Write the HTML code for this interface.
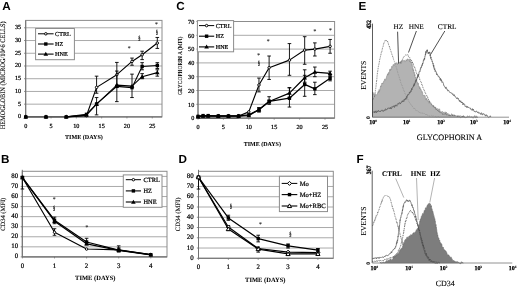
<!DOCTYPE html>
<html><head><meta charset="utf-8"><style>
html,body{margin:0;padding:0;background:#fff;overflow:hidden;}
svg{display:block;will-change:transform;filter:blur(0.35px);}
text{text-rendering:geometricPrecision;}
</style></head><body>
<svg width="520" height="288" viewBox="0 0 520 288">
<rect width="520" height="288" fill="#fff"/>
<text x="2.20" y="9.80" font-size="11.7" text-anchor="start" font-weight="bold" font-family="'Liberation Sans', sans-serif" fill="#000">A</text>
<text x="176.20" y="9.80" font-size="11.7" text-anchor="start" font-weight="bold" font-family="'Liberation Sans', sans-serif" fill="#000">C</text>
<text x="358.40" y="9.80" font-size="11.7" text-anchor="start" font-weight="bold" font-family="'Liberation Sans', sans-serif" fill="#000">E</text>
<text x="1.00" y="162.70" font-size="11.7" text-anchor="start" font-weight="bold" font-family="'Liberation Sans', sans-serif" fill="#000">B</text>
<text x="178.60" y="163.10" font-size="11.7" text-anchor="start" font-weight="bold" font-family="'Liberation Sans', sans-serif" fill="#000">D</text>
<text x="356.50" y="163.10" font-size="11.7" text-anchor="start" font-weight="bold" font-family="'Liberation Sans', sans-serif" fill="#000">F</text>
<line x1="25.70" y1="104.17" x2="162.00" y2="104.17" stroke="#a0a0a0" stroke-width="0.9"/>
<line x1="25.70" y1="91.44" x2="162.00" y2="91.44" stroke="#a0a0a0" stroke-width="0.9"/>
<line x1="25.70" y1="78.71" x2="162.00" y2="78.71" stroke="#a0a0a0" stroke-width="0.9"/>
<line x1="25.70" y1="65.98" x2="162.00" y2="65.98" stroke="#a0a0a0" stroke-width="0.9"/>
<line x1="25.70" y1="53.25" x2="162.00" y2="53.25" stroke="#a0a0a0" stroke-width="0.9"/>
<line x1="25.70" y1="40.52" x2="162.00" y2="40.52" stroke="#a0a0a0" stroke-width="0.9"/>
<line x1="25.70" y1="27.79" x2="162.00" y2="27.79" stroke="#a0a0a0" stroke-width="0.9"/>
<rect x="25.7" y="20.4" width="136.3" height="96.5" fill="none" stroke="#8c8c8c" stroke-width="1.0"/>
<line x1="25.70" y1="20.40" x2="25.70" y2="116.90" stroke="#707070" stroke-width="1.0"/>
<line x1="25.70" y1="116.90" x2="162.00" y2="116.90" stroke="#707070" stroke-width="1.1"/>
<text x="21.20" y="118.25" font-size="6.2" text-anchor="end" font-weight="normal" font-family="'Liberation Serif', serif" fill="#000" stroke="#000" stroke-width="0.22">0</text>
<line x1="24.10" y1="116.90" x2="25.70" y2="116.90" stroke="#707070" stroke-width="0.8"/>
<text x="21.20" y="105.52" font-size="6.2" text-anchor="end" font-weight="normal" font-family="'Liberation Serif', serif" fill="#000" stroke="#000" stroke-width="0.22">5</text>
<line x1="24.10" y1="104.17" x2="25.70" y2="104.17" stroke="#707070" stroke-width="0.8"/>
<text x="21.20" y="92.79" font-size="6.2" text-anchor="end" font-weight="normal" font-family="'Liberation Serif', serif" fill="#000" stroke="#000" stroke-width="0.22">10</text>
<line x1="24.10" y1="91.44" x2="25.70" y2="91.44" stroke="#707070" stroke-width="0.8"/>
<text x="21.20" y="80.06" font-size="6.2" text-anchor="end" font-weight="normal" font-family="'Liberation Serif', serif" fill="#000" stroke="#000" stroke-width="0.22">15</text>
<line x1="24.10" y1="78.71" x2="25.70" y2="78.71" stroke="#707070" stroke-width="0.8"/>
<text x="21.20" y="67.33" font-size="6.2" text-anchor="end" font-weight="normal" font-family="'Liberation Serif', serif" fill="#000" stroke="#000" stroke-width="0.22">20</text>
<line x1="24.10" y1="65.98" x2="25.70" y2="65.98" stroke="#707070" stroke-width="0.8"/>
<text x="21.20" y="54.60" font-size="6.2" text-anchor="end" font-weight="normal" font-family="'Liberation Serif', serif" fill="#000" stroke="#000" stroke-width="0.22">25</text>
<line x1="24.10" y1="53.25" x2="25.70" y2="53.25" stroke="#707070" stroke-width="0.8"/>
<text x="21.20" y="41.87" font-size="6.2" text-anchor="end" font-weight="normal" font-family="'Liberation Serif', serif" fill="#000" stroke="#000" stroke-width="0.22">30</text>
<line x1="24.10" y1="40.52" x2="25.70" y2="40.52" stroke="#707070" stroke-width="0.8"/>
<text x="21.20" y="29.14" font-size="6.2" text-anchor="end" font-weight="normal" font-family="'Liberation Serif', serif" fill="#000" stroke="#000" stroke-width="0.22">35</text>
<line x1="24.10" y1="27.79" x2="25.70" y2="27.79" stroke="#707070" stroke-width="0.8"/>
<text x="25.75" y="127.50" font-size="6.2" text-anchor="middle" font-weight="normal" font-family="'Liberation Serif', serif" fill="#000" stroke="#000" stroke-width="0.22">0</text>
<line x1="25.75" y1="116.90" x2="25.75" y2="118.40" stroke="#707070" stroke-width="0.8"/>
<text x="51.05" y="127.50" font-size="6.2" text-anchor="middle" font-weight="normal" font-family="'Liberation Serif', serif" fill="#000" stroke="#000" stroke-width="0.22">5</text>
<line x1="51.05" y1="116.90" x2="51.05" y2="118.40" stroke="#707070" stroke-width="0.8"/>
<text x="76.35" y="127.50" font-size="6.2" text-anchor="middle" font-weight="normal" font-family="'Liberation Serif', serif" fill="#000" stroke="#000" stroke-width="0.22">10</text>
<line x1="76.35" y1="116.90" x2="76.35" y2="118.40" stroke="#707070" stroke-width="0.8"/>
<text x="101.65" y="127.50" font-size="6.2" text-anchor="middle" font-weight="normal" font-family="'Liberation Serif', serif" fill="#000" stroke="#000" stroke-width="0.22">15</text>
<line x1="101.65" y1="116.90" x2="101.65" y2="118.40" stroke="#707070" stroke-width="0.8"/>
<text x="126.95" y="127.50" font-size="6.2" text-anchor="middle" font-weight="normal" font-family="'Liberation Serif', serif" fill="#000" stroke="#000" stroke-width="0.22">20</text>
<line x1="126.95" y1="116.90" x2="126.95" y2="118.40" stroke="#707070" stroke-width="0.8"/>
<text x="152.25" y="127.50" font-size="6.2" text-anchor="middle" font-weight="normal" font-family="'Liberation Serif', serif" fill="#000" stroke="#000" stroke-width="0.22">25</text>
<line x1="152.25" y1="116.90" x2="152.25" y2="118.40" stroke="#707070" stroke-width="0.8"/>
<line x1="25.75" y1="116.90" x2="66.20" y2="116.90" stroke="#555" stroke-width="1.4"/>
<line x1="96.59" y1="76.16" x2="96.59" y2="93.22" stroke="#000" stroke-width="0.9"/>
<line x1="94.79" y1="76.16" x2="98.39" y2="76.16" stroke="#000" stroke-width="0.9"/>
<line x1="94.79" y1="93.22" x2="98.39" y2="93.22" stroke="#000" stroke-width="0.9"/>
<line x1="116.83" y1="62.42" x2="116.83" y2="87.37" stroke="#000" stroke-width="0.9"/>
<line x1="115.03" y1="62.42" x2="118.63" y2="62.42" stroke="#000" stroke-width="0.9"/>
<line x1="115.03" y1="87.37" x2="118.63" y2="87.37" stroke="#000" stroke-width="0.9"/>
<line x1="132.01" y1="58.09" x2="132.01" y2="65.22" stroke="#000" stroke-width="0.9"/>
<line x1="130.21" y1="58.09" x2="133.81" y2="58.09" stroke="#000" stroke-width="0.9"/>
<line x1="130.21" y1="65.22" x2="133.81" y2="65.22" stroke="#000" stroke-width="0.9"/>
<line x1="142.13" y1="51.21" x2="142.13" y2="59.62" stroke="#000" stroke-width="0.9"/>
<line x1="140.33" y1="51.21" x2="143.93" y2="51.21" stroke="#000" stroke-width="0.9"/>
<line x1="140.33" y1="59.62" x2="143.93" y2="59.62" stroke="#000" stroke-width="0.9"/>
<line x1="157.31" y1="37.46" x2="157.31" y2="48.41" stroke="#000" stroke-width="0.9"/>
<line x1="155.51" y1="37.46" x2="159.11" y2="37.46" stroke="#000" stroke-width="0.9"/>
<line x1="155.51" y1="48.41" x2="159.11" y2="48.41" stroke="#000" stroke-width="0.9"/>
<polyline points="66.23,116.90 86.47,115.63 96.59,87.37 116.83,74.64 132.01,61.40 142.13,54.78 157.31,43.07" stroke="#000" stroke-width="1.15" fill="none" stroke-linejoin="round"/>
<circle cx="25.75" cy="116.90" r="1.25" fill="#fff" stroke="#000" stroke-width="0.95"/>
<circle cx="45.99" cy="116.90" r="1.25" fill="#fff" stroke="#000" stroke-width="0.95"/>
<circle cx="66.23" cy="116.90" r="1.25" fill="#fff" stroke="#000" stroke-width="0.95"/>
<circle cx="86.47" cy="115.63" r="1.25" fill="#fff" stroke="#000" stroke-width="0.95"/>
<circle cx="96.59" cy="87.37" r="1.25" fill="#fff" stroke="#000" stroke-width="0.95"/>
<circle cx="116.83" cy="74.64" r="1.25" fill="#fff" stroke="#000" stroke-width="0.95"/>
<circle cx="132.01" cy="61.40" r="1.25" fill="#fff" stroke="#000" stroke-width="0.95"/>
<circle cx="142.13" cy="54.78" r="1.25" fill="#fff" stroke="#000" stroke-width="0.95"/>
<circle cx="157.31" cy="43.07" r="1.25" fill="#fff" stroke="#000" stroke-width="0.95"/>
<line x1="96.59" y1="97.55" x2="96.59" y2="114.86" stroke="#000" stroke-width="0.9"/>
<line x1="94.79" y1="97.55" x2="98.39" y2="97.55" stroke="#000" stroke-width="0.9"/>
<line x1="94.79" y1="114.86" x2="98.39" y2="114.86" stroke="#000" stroke-width="0.9"/>
<line x1="116.83" y1="71.07" x2="116.83" y2="101.62" stroke="#000" stroke-width="0.9"/>
<line x1="115.03" y1="71.07" x2="118.63" y2="71.07" stroke="#000" stroke-width="0.9"/>
<line x1="115.03" y1="101.62" x2="118.63" y2="101.62" stroke="#000" stroke-width="0.9"/>
<line x1="132.01" y1="74.13" x2="132.01" y2="97.55" stroke="#000" stroke-width="0.9"/>
<line x1="130.21" y1="74.13" x2="133.81" y2="74.13" stroke="#000" stroke-width="0.9"/>
<line x1="130.21" y1="97.55" x2="133.81" y2="97.55" stroke="#000" stroke-width="0.9"/>
<line x1="142.13" y1="62.67" x2="142.13" y2="69.80" stroke="#000" stroke-width="0.9"/>
<line x1="140.33" y1="62.67" x2="143.93" y2="62.67" stroke="#000" stroke-width="0.9"/>
<line x1="140.33" y1="69.80" x2="143.93" y2="69.80" stroke="#000" stroke-width="0.9"/>
<line x1="157.31" y1="62.67" x2="157.31" y2="68.53" stroke="#000" stroke-width="0.9"/>
<line x1="155.51" y1="62.67" x2="159.11" y2="62.67" stroke="#000" stroke-width="0.9"/>
<line x1="155.51" y1="68.53" x2="159.11" y2="68.53" stroke="#000" stroke-width="0.9"/>
<polyline points="66.23,116.90 86.47,114.35 96.59,103.92 116.83,86.35 132.01,87.62 142.13,66.49 157.31,65.47" stroke="#000" stroke-width="1.1" fill="none" stroke-linejoin="round"/>
<rect x="24.05" y="115.20" width="3.40" height="3.40" fill="#000"/>
<rect x="44.29" y="115.20" width="3.40" height="3.40" fill="#000"/>
<rect x="64.53" y="115.20" width="3.40" height="3.40" fill="#000"/>
<rect x="84.77" y="112.65" width="3.40" height="3.40" fill="#000"/>
<rect x="94.89" y="102.22" width="3.40" height="3.40" fill="#000"/>
<rect x="115.13" y="84.65" width="3.40" height="3.40" fill="#000"/>
<rect x="130.31" y="85.92" width="3.40" height="3.40" fill="#000"/>
<rect x="140.43" y="64.79" width="3.40" height="3.40" fill="#000"/>
<rect x="155.61" y="63.77" width="3.40" height="3.40" fill="#000"/>
<line x1="142.13" y1="73.62" x2="142.13" y2="78.71" stroke="#000" stroke-width="0.9"/>
<line x1="140.33" y1="73.62" x2="143.93" y2="73.62" stroke="#000" stroke-width="0.9"/>
<line x1="140.33" y1="78.71" x2="143.93" y2="78.71" stroke="#000" stroke-width="0.9"/>
<line x1="157.31" y1="69.80" x2="157.31" y2="76.16" stroke="#000" stroke-width="0.9"/>
<line x1="155.51" y1="69.80" x2="159.11" y2="69.80" stroke="#000" stroke-width="0.9"/>
<line x1="155.51" y1="76.16" x2="159.11" y2="76.16" stroke="#000" stroke-width="0.9"/>
<polyline points="66.23,116.90 86.47,115.12 96.59,104.17 116.83,85.08 132.01,86.09 142.13,76.67 157.31,72.60" stroke="#000" stroke-width="1.1" fill="none" stroke-linejoin="round"/>
<polygon points="25.75,114.60 23.45,118.62 28.05,118.62" fill="#000"/>
<polygon points="45.99,114.60 43.69,118.62 48.29,118.62" fill="#000"/>
<polygon points="66.23,114.60 63.93,118.62 68.53,118.62" fill="#000"/>
<polygon points="86.47,112.82 84.17,116.84 88.77,116.84" fill="#000"/>
<polygon points="96.59,101.87 94.29,105.89 98.89,105.89" fill="#000"/>
<polygon points="116.83,82.78 114.53,86.80 119.13,86.80" fill="#000"/>
<polygon points="132.01,83.79 129.71,87.82 134.31,87.82" fill="#000"/>
<polygon points="142.13,74.37 139.83,78.40 144.43,78.40" fill="#000"/>
<polygon points="157.31,70.30 155.01,74.32 159.61,74.32" fill="#000"/>
<rect x="35.6" y="28.5" width="38.800000000000004" height="31.200000000000003" fill="#fff" stroke="#8c8c8c" stroke-width="1.0"/>
<line x1="38.00" y1="33.80" x2="53.60" y2="33.80" stroke="#000" stroke-width="1.0"/>
<circle cx="45.80" cy="33.80" r="1.25" fill="#fff" stroke="#000" stroke-width="0.95"/>
<text x="55.10" y="35.87" font-size="6.1" text-anchor="start" font-weight="normal" font-family="'Liberation Serif', serif" fill="#000" stroke="#000" stroke-width="0.22">CTRL</text>
<line x1="38.00" y1="44.00" x2="53.60" y2="44.00" stroke="#000" stroke-width="1.1"/>
<rect x="44.10" y="42.30" width="3.40" height="3.40" fill="#000"/>
<text x="55.10" y="46.07" font-size="6.1" text-anchor="start" font-weight="normal" font-family="'Liberation Serif', serif" fill="#000" stroke="#000" stroke-width="0.22">HZ</text>
<line x1="38.00" y1="54.10" x2="53.60" y2="54.10" stroke="#000" stroke-width="1.1"/>
<polygon points="45.80,51.80 43.50,55.83 48.10,55.83" fill="#000"/>
<text x="55.10" y="56.17" font-size="6.1" text-anchor="start" font-weight="normal" font-family="'Liberation Serif', serif" fill="#000" stroke="#000" stroke-width="0.22">HNE</text>
<text x="83.90" y="139.20" font-size="6.1" text-anchor="middle" font-weight="bold" font-family="'Liberation Serif', serif" fill="#000" stroke="#000" stroke-width="0.05">TIME (DAYS)</text>
<text x="0" y="0" font-size="6.9" text-anchor="middle" font-weight="normal" font-family="'Liberation Serif', serif" fill="#000" stroke="#000" stroke-width="0.12" transform="translate(5.10 75.40) rotate(-90) scale(0.91 1)">HEMOGLOBIN (MICROG/10^6 CELLS)</text>
<text x="129.20" y="50.30" font-size="5.6" text-anchor="middle" font-weight="normal" font-family="'Liberation Serif', serif" fill="#333" stroke="#333" stroke-width="0.15">*</text>
<text x="156.40" y="25.70" font-size="5.6" text-anchor="middle" font-weight="normal" font-family="'Liberation Serif', serif" fill="#333" stroke="#333" stroke-width="0.15">*</text>
<text x="0" y="0" font-size="6.2" text-anchor="middle" font-weight="normal" font-family="'Liberation Serif', serif" fill="#000" stroke="#000" stroke-width="0.2" transform="translate(139.50 40.10) scale(0.75 1)">§</text>
<text x="0" y="0" font-size="6.2" text-anchor="middle" font-weight="normal" font-family="'Liberation Serif', serif" fill="#000" stroke="#000" stroke-width="0.2" transform="translate(156.80 34.20) scale(0.75 1)">§</text>
<line x1="198.00" y1="104.30" x2="334.60" y2="104.30" stroke="#a0a0a0" stroke-width="0.9"/>
<line x1="198.00" y1="90.50" x2="334.60" y2="90.50" stroke="#a0a0a0" stroke-width="0.9"/>
<line x1="198.00" y1="76.70" x2="334.60" y2="76.70" stroke="#a0a0a0" stroke-width="0.9"/>
<line x1="198.00" y1="62.90" x2="334.60" y2="62.90" stroke="#a0a0a0" stroke-width="0.9"/>
<line x1="198.00" y1="49.10" x2="334.60" y2="49.10" stroke="#a0a0a0" stroke-width="0.9"/>
<line x1="198.00" y1="35.30" x2="334.60" y2="35.30" stroke="#a0a0a0" stroke-width="0.9"/>
<line x1="198.00" y1="21.50" x2="334.60" y2="21.50" stroke="#a0a0a0" stroke-width="0.9"/>
<rect x="198.0" y="21.5" width="136.60000000000002" height="96.6" fill="none" stroke="#8c8c8c" stroke-width="1.0"/>
<line x1="198.00" y1="21.50" x2="198.00" y2="118.10" stroke="#707070" stroke-width="1.0"/>
<line x1="198.00" y1="118.10" x2="334.60" y2="118.10" stroke="#707070" stroke-width="1.1"/>
<text x="194.30" y="120.35" font-size="6.2" text-anchor="end" font-weight="normal" font-family="'Liberation Serif', serif" fill="#000" stroke="#000" stroke-width="0.22">0</text>
<line x1="196.40" y1="118.10" x2="198.00" y2="118.10" stroke="#707070" stroke-width="0.8"/>
<text x="194.30" y="106.55" font-size="6.2" text-anchor="end" font-weight="normal" font-family="'Liberation Serif', serif" fill="#000" stroke="#000" stroke-width="0.22">10</text>
<line x1="196.40" y1="104.30" x2="198.00" y2="104.30" stroke="#707070" stroke-width="0.8"/>
<text x="194.30" y="92.75" font-size="6.2" text-anchor="end" font-weight="normal" font-family="'Liberation Serif', serif" fill="#000" stroke="#000" stroke-width="0.22">20</text>
<line x1="196.40" y1="90.50" x2="198.00" y2="90.50" stroke="#707070" stroke-width="0.8"/>
<text x="194.30" y="78.95" font-size="6.2" text-anchor="end" font-weight="normal" font-family="'Liberation Serif', serif" fill="#000" stroke="#000" stroke-width="0.22">30</text>
<line x1="196.40" y1="76.70" x2="198.00" y2="76.70" stroke="#707070" stroke-width="0.8"/>
<text x="194.30" y="65.15" font-size="6.2" text-anchor="end" font-weight="normal" font-family="'Liberation Serif', serif" fill="#000" stroke="#000" stroke-width="0.22">40</text>
<line x1="196.40" y1="62.90" x2="198.00" y2="62.90" stroke="#707070" stroke-width="0.8"/>
<text x="194.30" y="51.35" font-size="6.2" text-anchor="end" font-weight="normal" font-family="'Liberation Serif', serif" fill="#000" stroke="#000" stroke-width="0.22">50</text>
<line x1="196.40" y1="49.10" x2="198.00" y2="49.10" stroke="#707070" stroke-width="0.8"/>
<text x="194.30" y="37.55" font-size="6.2" text-anchor="end" font-weight="normal" font-family="'Liberation Serif', serif" fill="#000" stroke="#000" stroke-width="0.22">60</text>
<line x1="196.40" y1="35.30" x2="198.00" y2="35.30" stroke="#707070" stroke-width="0.8"/>
<text x="194.30" y="23.75" font-size="6.2" text-anchor="end" font-weight="normal" font-family="'Liberation Serif', serif" fill="#000" stroke="#000" stroke-width="0.22">70</text>
<line x1="196.40" y1="21.50" x2="198.00" y2="21.50" stroke="#707070" stroke-width="0.8"/>
<text x="198.00" y="128.80" font-size="6.2" text-anchor="middle" font-weight="normal" font-family="'Liberation Serif', serif" fill="#000" stroke="#000" stroke-width="0.22">0</text>
<line x1="198.00" y1="118.10" x2="198.00" y2="119.60" stroke="#707070" stroke-width="0.8"/>
<text x="223.40" y="128.80" font-size="6.2" text-anchor="middle" font-weight="normal" font-family="'Liberation Serif', serif" fill="#000" stroke="#000" stroke-width="0.22">5</text>
<line x1="223.40" y1="118.10" x2="223.40" y2="119.60" stroke="#707070" stroke-width="0.8"/>
<text x="248.80" y="128.80" font-size="6.2" text-anchor="middle" font-weight="normal" font-family="'Liberation Serif', serif" fill="#000" stroke="#000" stroke-width="0.22">10</text>
<line x1="248.80" y1="118.10" x2="248.80" y2="119.60" stroke="#707070" stroke-width="0.8"/>
<text x="274.20" y="128.80" font-size="6.2" text-anchor="middle" font-weight="normal" font-family="'Liberation Serif', serif" fill="#000" stroke="#000" stroke-width="0.22">15</text>
<line x1="274.20" y1="118.10" x2="274.20" y2="119.60" stroke="#707070" stroke-width="0.8"/>
<text x="299.60" y="128.80" font-size="6.2" text-anchor="middle" font-weight="normal" font-family="'Liberation Serif', serif" fill="#000" stroke="#000" stroke-width="0.22">20</text>
<line x1="299.60" y1="118.10" x2="299.60" y2="119.60" stroke="#707070" stroke-width="0.8"/>
<text x="325.00" y="128.80" font-size="6.2" text-anchor="middle" font-weight="normal" font-family="'Liberation Serif', serif" fill="#000" stroke="#000" stroke-width="0.22">25</text>
<line x1="325.00" y1="118.10" x2="325.00" y2="119.60" stroke="#707070" stroke-width="0.8"/>
<line x1="198.00" y1="118.10" x2="238.70" y2="118.10" stroke="#555" stroke-width="1.4"/>
<line x1="258.96" y1="78.08" x2="258.96" y2="91.88" stroke="#000" stroke-width="0.9"/>
<line x1="257.16" y1="78.08" x2="260.76" y2="78.08" stroke="#000" stroke-width="0.9"/>
<line x1="257.16" y1="91.88" x2="260.76" y2="91.88" stroke="#000" stroke-width="0.9"/>
<line x1="269.12" y1="56.00" x2="269.12" y2="79.46" stroke="#000" stroke-width="0.9"/>
<line x1="267.32" y1="56.00" x2="270.92" y2="56.00" stroke="#000" stroke-width="0.9"/>
<line x1="267.32" y1="79.46" x2="270.92" y2="79.46" stroke="#000" stroke-width="0.9"/>
<line x1="289.44" y1="43.58" x2="289.44" y2="75.32" stroke="#000" stroke-width="0.9"/>
<line x1="287.64" y1="43.58" x2="291.24" y2="43.58" stroke="#000" stroke-width="0.9"/>
<line x1="287.64" y1="75.32" x2="291.24" y2="75.32" stroke="#000" stroke-width="0.9"/>
<line x1="304.68" y1="36.68" x2="304.68" y2="64.28" stroke="#000" stroke-width="0.9"/>
<line x1="302.88" y1="36.68" x2="306.48" y2="36.68" stroke="#000" stroke-width="0.9"/>
<line x1="302.88" y1="64.28" x2="306.48" y2="64.28" stroke="#000" stroke-width="0.9"/>
<line x1="314.84" y1="42.89" x2="314.84" y2="56.00" stroke="#000" stroke-width="0.9"/>
<line x1="313.04" y1="42.89" x2="316.64" y2="42.89" stroke="#000" stroke-width="0.9"/>
<line x1="313.04" y1="56.00" x2="316.64" y2="56.00" stroke="#000" stroke-width="0.9"/>
<line x1="330.08" y1="39.44" x2="330.08" y2="53.24" stroke="#000" stroke-width="0.9"/>
<line x1="328.28" y1="39.44" x2="331.88" y2="39.44" stroke="#000" stroke-width="0.9"/>
<line x1="328.28" y1="53.24" x2="331.88" y2="53.24" stroke="#000" stroke-width="0.9"/>
<polyline points="198.00,116.44 203.08,115.89 208.16,115.89 218.32,116.03 228.48,116.03 238.64,116.03 248.80,111.89 258.96,84.98 269.12,67.73 289.44,60.14 304.68,50.07 314.84,49.10 330.08,46.34" stroke="#000" stroke-width="1.15" fill="none" stroke-linejoin="round"/>
<circle cx="198.00" cy="116.44" r="1.25" fill="#fff" stroke="#000" stroke-width="0.95"/>
<circle cx="203.08" cy="115.89" r="1.25" fill="#fff" stroke="#000" stroke-width="0.95"/>
<circle cx="208.16" cy="115.89" r="1.25" fill="#fff" stroke="#000" stroke-width="0.95"/>
<circle cx="218.32" cy="116.03" r="1.25" fill="#fff" stroke="#000" stroke-width="0.95"/>
<circle cx="228.48" cy="116.03" r="1.25" fill="#fff" stroke="#000" stroke-width="0.95"/>
<circle cx="238.64" cy="116.03" r="1.25" fill="#fff" stroke="#000" stroke-width="0.95"/>
<circle cx="248.80" cy="111.89" r="1.25" fill="#fff" stroke="#000" stroke-width="0.95"/>
<circle cx="258.96" cy="84.98" r="1.25" fill="#fff" stroke="#000" stroke-width="0.95"/>
<circle cx="269.12" cy="67.73" r="1.25" fill="#fff" stroke="#000" stroke-width="0.95"/>
<circle cx="289.44" cy="60.14" r="1.25" fill="#fff" stroke="#000" stroke-width="0.95"/>
<circle cx="304.68" cy="50.07" r="1.25" fill="#fff" stroke="#000" stroke-width="0.95"/>
<circle cx="314.84" cy="49.10" r="1.25" fill="#fff" stroke="#000" stroke-width="0.95"/>
<circle cx="330.08" cy="46.34" r="1.25" fill="#fff" stroke="#000" stroke-width="0.95"/>
<line x1="258.96" y1="107.75" x2="258.96" y2="111.89" stroke="#000" stroke-width="0.9"/>
<line x1="257.16" y1="107.75" x2="260.76" y2="107.75" stroke="#000" stroke-width="0.9"/>
<line x1="257.16" y1="111.89" x2="260.76" y2="111.89" stroke="#000" stroke-width="0.9"/>
<line x1="269.12" y1="96.71" x2="269.12" y2="104.30" stroke="#000" stroke-width="0.9"/>
<line x1="267.32" y1="96.71" x2="270.92" y2="96.71" stroke="#000" stroke-width="0.9"/>
<line x1="267.32" y1="104.30" x2="270.92" y2="104.30" stroke="#000" stroke-width="0.9"/>
<line x1="289.44" y1="87.74" x2="289.44" y2="107.06" stroke="#000" stroke-width="0.9"/>
<line x1="287.64" y1="87.74" x2="291.24" y2="87.74" stroke="#000" stroke-width="0.9"/>
<line x1="287.64" y1="107.06" x2="291.24" y2="107.06" stroke="#000" stroke-width="0.9"/>
<line x1="304.68" y1="75.32" x2="304.68" y2="96.30" stroke="#000" stroke-width="0.9"/>
<line x1="302.88" y1="75.32" x2="306.48" y2="75.32" stroke="#000" stroke-width="0.9"/>
<line x1="302.88" y1="96.30" x2="306.48" y2="96.30" stroke="#000" stroke-width="0.9"/>
<line x1="314.84" y1="82.22" x2="314.84" y2="94.64" stroke="#000" stroke-width="0.9"/>
<line x1="313.04" y1="82.22" x2="316.64" y2="82.22" stroke="#000" stroke-width="0.9"/>
<line x1="313.04" y1="94.64" x2="316.64" y2="94.64" stroke="#000" stroke-width="0.9"/>
<line x1="330.08" y1="75.32" x2="330.08" y2="80.84" stroke="#000" stroke-width="0.9"/>
<line x1="328.28" y1="75.32" x2="331.88" y2="75.32" stroke="#000" stroke-width="0.9"/>
<line x1="328.28" y1="80.84" x2="331.88" y2="80.84" stroke="#000" stroke-width="0.9"/>
<polyline points="198.00,116.44 203.08,115.62 208.16,115.62 218.32,115.89 228.48,115.89 238.64,115.89 248.80,114.79 258.96,109.82 269.12,101.40 289.44,98.23 304.68,84.43 314.84,88.84 330.08,78.36" stroke="#000" stroke-width="1.25" fill="none" stroke-linejoin="round"/>
<rect x="196.30" y="114.74" width="3.40" height="3.40" fill="#000"/>
<rect x="201.38" y="113.92" width="3.40" height="3.40" fill="#000"/>
<rect x="206.46" y="113.92" width="3.40" height="3.40" fill="#000"/>
<rect x="216.62" y="114.19" width="3.40" height="3.40" fill="#000"/>
<rect x="226.78" y="114.19" width="3.40" height="3.40" fill="#000"/>
<rect x="236.94" y="114.19" width="3.40" height="3.40" fill="#000"/>
<rect x="247.10" y="113.09" width="3.40" height="3.40" fill="#000"/>
<rect x="257.26" y="108.12" width="3.40" height="3.40" fill="#000"/>
<rect x="267.42" y="99.70" width="3.40" height="3.40" fill="#000"/>
<rect x="287.74" y="96.53" width="3.40" height="3.40" fill="#000"/>
<rect x="302.98" y="82.73" width="3.40" height="3.40" fill="#000"/>
<rect x="313.14" y="87.14" width="3.40" height="3.40" fill="#000"/>
<rect x="328.38" y="76.66" width="3.40" height="3.40" fill="#000"/>
<line x1="258.96" y1="107.75" x2="258.96" y2="111.89" stroke="#000" stroke-width="0.9"/>
<line x1="257.16" y1="107.75" x2="260.76" y2="107.75" stroke="#000" stroke-width="0.9"/>
<line x1="257.16" y1="111.89" x2="260.76" y2="111.89" stroke="#000" stroke-width="0.9"/>
<line x1="269.12" y1="100.16" x2="269.12" y2="102.92" stroke="#000" stroke-width="0.9"/>
<line x1="267.32" y1="100.16" x2="270.92" y2="100.16" stroke="#000" stroke-width="0.9"/>
<line x1="267.32" y1="102.92" x2="270.92" y2="102.92" stroke="#000" stroke-width="0.9"/>
<line x1="289.44" y1="87.74" x2="289.44" y2="97.40" stroke="#000" stroke-width="0.9"/>
<line x1="287.64" y1="87.74" x2="291.24" y2="87.74" stroke="#000" stroke-width="0.9"/>
<line x1="287.64" y1="97.40" x2="291.24" y2="97.40" stroke="#000" stroke-width="0.9"/>
<line x1="304.68" y1="69.80" x2="304.68" y2="82.22" stroke="#000" stroke-width="0.9"/>
<line x1="302.88" y1="69.80" x2="306.48" y2="69.80" stroke="#000" stroke-width="0.9"/>
<line x1="302.88" y1="82.22" x2="306.48" y2="82.22" stroke="#000" stroke-width="0.9"/>
<line x1="314.84" y1="67.04" x2="314.84" y2="76.70" stroke="#000" stroke-width="0.9"/>
<line x1="313.04" y1="67.04" x2="316.64" y2="67.04" stroke="#000" stroke-width="0.9"/>
<line x1="313.04" y1="76.70" x2="316.64" y2="76.70" stroke="#000" stroke-width="0.9"/>
<line x1="330.08" y1="71.18" x2="330.08" y2="76.70" stroke="#000" stroke-width="0.9"/>
<line x1="328.28" y1="71.18" x2="331.88" y2="71.18" stroke="#000" stroke-width="0.9"/>
<line x1="328.28" y1="76.70" x2="331.88" y2="76.70" stroke="#000" stroke-width="0.9"/>
<polyline points="198.00,116.72 203.08,116.03 208.16,116.03 218.32,116.17 228.48,116.17 238.64,116.17 248.80,115.62 258.96,109.54 269.12,101.54 289.44,93.12 304.68,77.80 314.84,72.15 330.08,73.39" stroke="#000" stroke-width="1.25" fill="none" stroke-linejoin="round"/>
<polygon points="198.00,114.42 195.70,118.44 200.30,118.44" fill="#000"/>
<polygon points="203.08,113.73 200.78,117.75 205.38,117.75" fill="#000"/>
<polygon points="208.16,113.73 205.86,117.75 210.46,117.75" fill="#000"/>
<polygon points="218.32,113.87 216.02,117.89 220.62,117.89" fill="#000"/>
<polygon points="228.48,113.87 226.18,117.89 230.78,117.89" fill="#000"/>
<polygon points="238.64,113.87 236.34,117.89 240.94,117.89" fill="#000"/>
<polygon points="248.80,113.32 246.50,117.34 251.10,117.34" fill="#000"/>
<polygon points="258.96,107.24 256.66,111.27 261.26,111.27" fill="#000"/>
<polygon points="269.12,99.24 266.82,103.26 271.42,103.26" fill="#000"/>
<polygon points="289.44,90.82 287.14,94.85 291.74,94.85" fill="#000"/>
<polygon points="304.68,75.50 302.38,79.53 306.98,79.53" fill="#000"/>
<polygon points="314.84,69.85 312.54,73.87 317.14,73.87" fill="#000"/>
<polygon points="330.08,71.09 327.78,75.11 332.38,75.11" fill="#000"/>
<rect x="197.4" y="20.6" width="36.19999999999999" height="31.199999999999996" fill="#fff" stroke="#8c8c8c" stroke-width="1.0"/>
<line x1="199.00" y1="25.60" x2="214.20" y2="25.60" stroke="#000" stroke-width="1.0"/>
<circle cx="206.60" cy="25.60" r="1.25" fill="#fff" stroke="#000" stroke-width="0.95"/>
<text x="215.80" y="27.67" font-size="6.1" text-anchor="start" font-weight="normal" font-family="'Liberation Serif', serif" fill="#000" stroke="#000" stroke-width="0.22">CTRL</text>
<line x1="199.00" y1="36.20" x2="214.20" y2="36.20" stroke="#000" stroke-width="1.1"/>
<rect x="204.90" y="34.50" width="3.40" height="3.40" fill="#000"/>
<text x="215.80" y="38.27" font-size="6.1" text-anchor="start" font-weight="normal" font-family="'Liberation Serif', serif" fill="#000" stroke="#000" stroke-width="0.22">HZ</text>
<line x1="199.00" y1="46.90" x2="214.20" y2="46.90" stroke="#000" stroke-width="1.1"/>
<polygon points="206.60,44.60 204.30,48.62 208.90,48.62" fill="#000"/>
<text x="215.80" y="48.97" font-size="6.1" text-anchor="start" font-weight="normal" font-family="'Liberation Serif', serif" fill="#000" stroke="#000" stroke-width="0.22">HNE</text>
<text x="262.30" y="146.30" font-size="6.0" text-anchor="middle" font-weight="bold" font-family="'Liberation Serif', serif" fill="#000" stroke="#000" stroke-width="0.05">TIME (DAYS)</text>
<text x="0" y="0" font-size="6.1" text-anchor="middle" font-weight="normal" font-family="'Liberation Serif', serif" fill="#000" stroke="#000" stroke-width="0.12" transform="translate(182.10 65.80) rotate(-90) scale(0.9 1)">GLYCOPHORIN A (MFI)</text>
<text x="258.60" y="56.90" font-size="5.6" text-anchor="middle" font-weight="normal" font-family="'Liberation Serif', serif" fill="#333" stroke="#333" stroke-width="0.15">*</text>
<text x="268.10" y="43.30" font-size="5.6" text-anchor="middle" font-weight="normal" font-family="'Liberation Serif', serif" fill="#333" stroke="#333" stroke-width="0.15">*</text>
<text x="315.00" y="33.10" font-size="5.6" text-anchor="middle" font-weight="normal" font-family="'Liberation Serif', serif" fill="#333" stroke="#333" stroke-width="0.15">*</text>
<text x="330.30" y="32.20" font-size="5.6" text-anchor="middle" font-weight="normal" font-family="'Liberation Serif', serif" fill="#333" stroke="#333" stroke-width="0.15">*</text>
<text x="0" y="0" font-size="6.2" text-anchor="middle" font-weight="normal" font-family="'Liberation Serif', serif" fill="#000" stroke="#000" stroke-width="0.2" transform="translate(259.00 65.35) scale(0.75 1)">§</text>
<line x1="22.30" y1="246.84" x2="167.00" y2="246.84" stroke="#a0a0a0" stroke-width="0.9"/>
<line x1="22.30" y1="236.78" x2="167.00" y2="236.78" stroke="#a0a0a0" stroke-width="0.9"/>
<line x1="22.30" y1="226.72" x2="167.00" y2="226.72" stroke="#a0a0a0" stroke-width="0.9"/>
<line x1="22.30" y1="216.66" x2="167.00" y2="216.66" stroke="#a0a0a0" stroke-width="0.9"/>
<line x1="22.30" y1="206.60" x2="167.00" y2="206.60" stroke="#a0a0a0" stroke-width="0.9"/>
<line x1="22.30" y1="196.54" x2="167.00" y2="196.54" stroke="#a0a0a0" stroke-width="0.9"/>
<line x1="22.30" y1="186.48" x2="167.00" y2="186.48" stroke="#a0a0a0" stroke-width="0.9"/>
<line x1="22.30" y1="176.42" x2="167.00" y2="176.42" stroke="#a0a0a0" stroke-width="0.9"/>
<rect x="22.3" y="171.3" width="144.7" height="85.59999999999997" fill="none" stroke="#8c8c8c" stroke-width="1.0"/>
<line x1="22.30" y1="169.80" x2="22.30" y2="256.90" stroke="#707070" stroke-width="1.0"/>
<line x1="22.30" y1="256.90" x2="167.00" y2="256.90" stroke="#707070" stroke-width="1.1"/>
<text x="18.20" y="258.48" font-size="6.9" text-anchor="end" font-weight="normal" font-family="'Liberation Serif', serif" fill="#000" stroke="#000" stroke-width="0.22">0</text>
<line x1="20.70" y1="256.90" x2="22.30" y2="256.90" stroke="#707070" stroke-width="0.8"/>
<text x="18.20" y="248.42" font-size="6.9" text-anchor="end" font-weight="normal" font-family="'Liberation Serif', serif" fill="#000" stroke="#000" stroke-width="0.22">10</text>
<line x1="20.70" y1="246.84" x2="22.30" y2="246.84" stroke="#707070" stroke-width="0.8"/>
<text x="18.20" y="238.36" font-size="6.9" text-anchor="end" font-weight="normal" font-family="'Liberation Serif', serif" fill="#000" stroke="#000" stroke-width="0.22">20</text>
<line x1="20.70" y1="236.78" x2="22.30" y2="236.78" stroke="#707070" stroke-width="0.8"/>
<text x="18.20" y="228.30" font-size="6.9" text-anchor="end" font-weight="normal" font-family="'Liberation Serif', serif" fill="#000" stroke="#000" stroke-width="0.22">30</text>
<line x1="20.70" y1="226.72" x2="22.30" y2="226.72" stroke="#707070" stroke-width="0.8"/>
<text x="18.20" y="218.24" font-size="6.9" text-anchor="end" font-weight="normal" font-family="'Liberation Serif', serif" fill="#000" stroke="#000" stroke-width="0.22">40</text>
<line x1="20.70" y1="216.66" x2="22.30" y2="216.66" stroke="#707070" stroke-width="0.8"/>
<text x="18.20" y="208.18" font-size="6.9" text-anchor="end" font-weight="normal" font-family="'Liberation Serif', serif" fill="#000" stroke="#000" stroke-width="0.22">50</text>
<line x1="20.70" y1="206.60" x2="22.30" y2="206.60" stroke="#707070" stroke-width="0.8"/>
<text x="18.20" y="198.12" font-size="6.9" text-anchor="end" font-weight="normal" font-family="'Liberation Serif', serif" fill="#000" stroke="#000" stroke-width="0.22">60</text>
<line x1="20.70" y1="196.54" x2="22.30" y2="196.54" stroke="#707070" stroke-width="0.8"/>
<text x="18.20" y="188.06" font-size="6.9" text-anchor="end" font-weight="normal" font-family="'Liberation Serif', serif" fill="#000" stroke="#000" stroke-width="0.22">70</text>
<line x1="20.70" y1="186.48" x2="22.30" y2="186.48" stroke="#707070" stroke-width="0.8"/>
<text x="18.20" y="178.00" font-size="6.9" text-anchor="end" font-weight="normal" font-family="'Liberation Serif', serif" fill="#000" stroke="#000" stroke-width="0.22">80</text>
<line x1="20.70" y1="176.42" x2="22.30" y2="176.42" stroke="#707070" stroke-width="0.8"/>
<text x="22.40" y="267.90" font-size="6.9" text-anchor="middle" font-weight="normal" font-family="'Liberation Serif', serif" fill="#000" stroke="#000" stroke-width="0.22">0</text>
<line x1="22.40" y1="256.90" x2="22.40" y2="258.40" stroke="#707070" stroke-width="0.8"/>
<text x="54.50" y="267.90" font-size="6.9" text-anchor="middle" font-weight="normal" font-family="'Liberation Serif', serif" fill="#000" stroke="#000" stroke-width="0.22">1</text>
<line x1="54.50" y1="256.90" x2="54.50" y2="258.40" stroke="#707070" stroke-width="0.8"/>
<text x="86.60" y="267.90" font-size="6.9" text-anchor="middle" font-weight="normal" font-family="'Liberation Serif', serif" fill="#000" stroke="#000" stroke-width="0.22">2</text>
<line x1="86.60" y1="256.90" x2="86.60" y2="258.40" stroke="#707070" stroke-width="0.8"/>
<text x="118.70" y="267.90" font-size="6.9" text-anchor="middle" font-weight="normal" font-family="'Liberation Serif', serif" fill="#000" stroke="#000" stroke-width="0.22">3</text>
<line x1="118.70" y1="256.90" x2="118.70" y2="258.40" stroke="#707070" stroke-width="0.8"/>
<text x="150.80" y="267.90" font-size="6.9" text-anchor="middle" font-weight="normal" font-family="'Liberation Serif', serif" fill="#000" stroke="#000" stroke-width="0.22">4</text>
<line x1="150.80" y1="256.90" x2="150.80" y2="258.40" stroke="#707070" stroke-width="0.8"/>
<line x1="54.50" y1="228.73" x2="54.50" y2="235.27" stroke="#000" stroke-width="0.9"/>
<line x1="52.70" y1="228.73" x2="56.30" y2="228.73" stroke="#000" stroke-width="0.9"/>
<line x1="52.70" y1="235.27" x2="56.30" y2="235.27" stroke="#000" stroke-width="0.9"/>
<line x1="118.70" y1="245.83" x2="118.70" y2="251.87" stroke="#000" stroke-width="0.9"/>
<line x1="116.90" y1="245.83" x2="120.50" y2="245.83" stroke="#000" stroke-width="0.9"/>
<line x1="116.90" y1="251.87" x2="120.50" y2="251.87" stroke="#000" stroke-width="0.9"/>
<polyline points="22.40,177.53 54.50,232.25 86.60,249.05 118.70,249.86 150.80,254.69" stroke="#000" stroke-width="1.15" fill="none" stroke-linejoin="round"/>
<circle cx="22.40" cy="177.53" r="1.25" fill="#fff" stroke="#000" stroke-width="0.95"/>
<circle cx="54.50" cy="232.25" r="1.25" fill="#fff" stroke="#000" stroke-width="0.95"/>
<circle cx="86.60" cy="249.05" r="1.25" fill="#fff" stroke="#000" stroke-width="0.95"/>
<circle cx="118.70" cy="249.86" r="1.25" fill="#fff" stroke="#000" stroke-width="0.95"/>
<circle cx="150.80" cy="254.69" r="1.25" fill="#fff" stroke="#000" stroke-width="0.95"/>
<line x1="22.40" y1="176.42" x2="22.40" y2="188.99" stroke="#000" stroke-width="0.9"/>
<line x1="20.60" y1="176.42" x2="24.20" y2="176.42" stroke="#000" stroke-width="0.9"/>
<line x1="20.60" y1="188.99" x2="24.20" y2="188.99" stroke="#000" stroke-width="0.9"/>
<line x1="54.50" y1="217.16" x2="54.50" y2="223.70" stroke="#000" stroke-width="0.9"/>
<line x1="52.70" y1="217.16" x2="56.30" y2="217.16" stroke="#000" stroke-width="0.9"/>
<line x1="52.70" y1="223.70" x2="56.30" y2="223.70" stroke="#000" stroke-width="0.9"/>
<line x1="86.60" y1="238.29" x2="86.60" y2="244.83" stroke="#000" stroke-width="0.9"/>
<line x1="84.80" y1="238.29" x2="88.40" y2="238.29" stroke="#000" stroke-width="0.9"/>
<line x1="84.80" y1="244.83" x2="88.40" y2="244.83" stroke="#000" stroke-width="0.9"/>
<line x1="118.70" y1="247.85" x2="118.70" y2="251.87" stroke="#000" stroke-width="0.9"/>
<line x1="116.90" y1="247.85" x2="120.50" y2="247.85" stroke="#000" stroke-width="0.9"/>
<line x1="116.90" y1="251.87" x2="120.50" y2="251.87" stroke="#000" stroke-width="0.9"/>
<polyline points="22.40,177.53 54.50,220.18 86.60,242.01 118.70,250.06 150.80,254.69" stroke="#000" stroke-width="1.25" fill="none" stroke-linejoin="round"/>
<rect x="20.70" y="175.83" width="3.40" height="3.40" fill="#000"/>
<rect x="52.80" y="218.48" width="3.40" height="3.40" fill="#000"/>
<rect x="84.90" y="240.31" width="3.40" height="3.40" fill="#000"/>
<rect x="117.00" y="248.36" width="3.40" height="3.40" fill="#000"/>
<rect x="149.10" y="252.99" width="3.40" height="3.40" fill="#000"/>
<polyline points="22.40,177.53 54.50,221.19 86.60,243.82 118.70,250.36 150.80,254.89" stroke="#000" stroke-width="1.25" fill="none" stroke-linejoin="round"/>
<polygon points="22.40,175.23 20.10,179.25 24.70,179.25" fill="#000"/>
<polygon points="54.50,218.89 52.20,222.91 56.80,222.91" fill="#000"/>
<polygon points="86.60,241.52 84.30,245.55 88.90,245.55" fill="#000"/>
<polygon points="118.70,248.06 116.40,252.09 121.00,252.09" fill="#000"/>
<polygon points="150.80,252.59 148.50,256.61 153.10,256.61" fill="#000"/>
<rect x="123.3" y="174.9" width="38.7" height="32.400000000000006" fill="#fff" stroke="#8c8c8c" stroke-width="1.0"/>
<line x1="125.80" y1="179.70" x2="141.00" y2="179.70" stroke="#000" stroke-width="1.0"/>
<circle cx="133.40" cy="179.70" r="1.25" fill="#fff" stroke="#000" stroke-width="0.95"/>
<text x="143.50" y="181.88" font-size="6.4" text-anchor="start" font-weight="normal" font-family="'Liberation Serif', serif" fill="#000" stroke="#000" stroke-width="0.22">CTRL</text>
<line x1="125.80" y1="190.90" x2="141.00" y2="190.90" stroke="#000" stroke-width="1.1"/>
<rect x="131.70" y="189.20" width="3.40" height="3.40" fill="#000"/>
<text x="143.50" y="193.08" font-size="6.4" text-anchor="start" font-weight="normal" font-family="'Liberation Serif', serif" fill="#000" stroke="#000" stroke-width="0.22">HZ</text>
<line x1="125.80" y1="202.00" x2="141.00" y2="202.00" stroke="#000" stroke-width="1.1"/>
<polygon points="133.40,199.70 131.10,203.72 135.70,203.72" fill="#000"/>
<text x="143.50" y="204.18" font-size="6.4" text-anchor="start" font-weight="normal" font-family="'Liberation Serif', serif" fill="#000" stroke="#000" stroke-width="0.22">HNE</text>
<text x="95.30" y="279.80" font-size="6.5" text-anchor="middle" font-weight="bold" font-family="'Liberation Serif', serif" fill="#000" stroke="#000" stroke-width="0.05">TIME (DAYS)</text>
<text x="0" y="0" font-size="6.5" text-anchor="middle" font-weight="normal" font-family="'Liberation Serif', serif" fill="#000" stroke="#000" stroke-width="0.1" transform="translate(4.70 214.30) rotate(-90)">CD34 (MFI)</text>
<text x="54.20" y="201.25" font-size="5.6" text-anchor="middle" font-weight="normal" font-family="'Liberation Serif', serif" fill="#333" stroke="#333" stroke-width="0.15">*</text>
<text x="86.90" y="229.40" font-size="5.6" text-anchor="middle" font-weight="normal" font-family="'Liberation Serif', serif" fill="#333" stroke="#333" stroke-width="0.15">*</text>
<text x="0" y="0" font-size="6.2" text-anchor="middle" font-weight="normal" font-family="'Liberation Serif', serif" fill="#000" stroke="#000" stroke-width="0.2" transform="translate(54.20 210.35) scale(0.75 1)">§</text>
<line x1="198.50" y1="248.04" x2="333.30" y2="248.04" stroke="#a0a0a0" stroke-width="0.9"/>
<line x1="198.50" y1="237.78" x2="333.30" y2="237.78" stroke="#a0a0a0" stroke-width="0.9"/>
<line x1="198.50" y1="227.52" x2="333.30" y2="227.52" stroke="#a0a0a0" stroke-width="0.9"/>
<line x1="198.50" y1="217.26" x2="333.30" y2="217.26" stroke="#a0a0a0" stroke-width="0.9"/>
<line x1="198.50" y1="207.00" x2="333.30" y2="207.00" stroke="#a0a0a0" stroke-width="0.9"/>
<line x1="198.50" y1="196.74" x2="333.30" y2="196.74" stroke="#a0a0a0" stroke-width="0.9"/>
<line x1="198.50" y1="186.48" x2="333.30" y2="186.48" stroke="#a0a0a0" stroke-width="0.9"/>
<line x1="198.50" y1="176.22" x2="333.30" y2="176.22" stroke="#a0a0a0" stroke-width="0.9"/>
<rect x="198.5" y="171.3" width="134.8" height="87.0" fill="none" stroke="#8c8c8c" stroke-width="1.0"/>
<line x1="198.50" y1="169.80" x2="198.50" y2="258.30" stroke="#707070" stroke-width="1.0"/>
<line x1="198.50" y1="258.30" x2="333.30" y2="258.30" stroke="#707070" stroke-width="1.1"/>
<text x="193.70" y="259.88" font-size="6.9" text-anchor="end" font-weight="normal" font-family="'Liberation Serif', serif" fill="#000" stroke="#000" stroke-width="0.22">0</text>
<line x1="196.90" y1="258.30" x2="198.50" y2="258.30" stroke="#707070" stroke-width="0.8"/>
<text x="193.70" y="249.62" font-size="6.9" text-anchor="end" font-weight="normal" font-family="'Liberation Serif', serif" fill="#000" stroke="#000" stroke-width="0.22">10</text>
<line x1="196.90" y1="248.04" x2="198.50" y2="248.04" stroke="#707070" stroke-width="0.8"/>
<text x="193.70" y="239.36" font-size="6.9" text-anchor="end" font-weight="normal" font-family="'Liberation Serif', serif" fill="#000" stroke="#000" stroke-width="0.22">20</text>
<line x1="196.90" y1="237.78" x2="198.50" y2="237.78" stroke="#707070" stroke-width="0.8"/>
<text x="193.70" y="229.10" font-size="6.9" text-anchor="end" font-weight="normal" font-family="'Liberation Serif', serif" fill="#000" stroke="#000" stroke-width="0.22">30</text>
<line x1="196.90" y1="227.52" x2="198.50" y2="227.52" stroke="#707070" stroke-width="0.8"/>
<text x="193.70" y="218.84" font-size="6.9" text-anchor="end" font-weight="normal" font-family="'Liberation Serif', serif" fill="#000" stroke="#000" stroke-width="0.22">40</text>
<line x1="196.90" y1="217.26" x2="198.50" y2="217.26" stroke="#707070" stroke-width="0.8"/>
<text x="193.70" y="208.58" font-size="6.9" text-anchor="end" font-weight="normal" font-family="'Liberation Serif', serif" fill="#000" stroke="#000" stroke-width="0.22">50</text>
<line x1="196.90" y1="207.00" x2="198.50" y2="207.00" stroke="#707070" stroke-width="0.8"/>
<text x="193.70" y="198.32" font-size="6.9" text-anchor="end" font-weight="normal" font-family="'Liberation Serif', serif" fill="#000" stroke="#000" stroke-width="0.22">60</text>
<line x1="196.90" y1="196.74" x2="198.50" y2="196.74" stroke="#707070" stroke-width="0.8"/>
<text x="193.70" y="188.06" font-size="6.9" text-anchor="end" font-weight="normal" font-family="'Liberation Serif', serif" fill="#000" stroke="#000" stroke-width="0.22">70</text>
<line x1="196.90" y1="186.48" x2="198.50" y2="186.48" stroke="#707070" stroke-width="0.8"/>
<text x="193.70" y="177.80" font-size="6.9" text-anchor="end" font-weight="normal" font-family="'Liberation Serif', serif" fill="#000" stroke="#000" stroke-width="0.22">80</text>
<line x1="196.90" y1="176.22" x2="198.50" y2="176.22" stroke="#707070" stroke-width="0.8"/>
<text x="198.50" y="269.20" font-size="6.9" text-anchor="middle" font-weight="normal" font-family="'Liberation Serif', serif" fill="#000" stroke="#000" stroke-width="0.22">0</text>
<line x1="198.50" y1="258.30" x2="198.50" y2="259.80" stroke="#707070" stroke-width="0.8"/>
<text x="228.35" y="269.20" font-size="6.9" text-anchor="middle" font-weight="normal" font-family="'Liberation Serif', serif" fill="#000" stroke="#000" stroke-width="0.22">1</text>
<line x1="228.35" y1="258.30" x2="228.35" y2="259.80" stroke="#707070" stroke-width="0.8"/>
<text x="258.20" y="269.20" font-size="6.9" text-anchor="middle" font-weight="normal" font-family="'Liberation Serif', serif" fill="#000" stroke="#000" stroke-width="0.22">2</text>
<line x1="258.20" y1="258.30" x2="258.20" y2="259.80" stroke="#707070" stroke-width="0.8"/>
<text x="288.05" y="269.20" font-size="6.9" text-anchor="middle" font-weight="normal" font-family="'Liberation Serif', serif" fill="#000" stroke="#000" stroke-width="0.22">3</text>
<line x1="288.05" y1="258.30" x2="288.05" y2="259.80" stroke="#707070" stroke-width="0.8"/>
<text x="317.90" y="269.20" font-size="6.9" text-anchor="middle" font-weight="normal" font-family="'Liberation Serif', serif" fill="#000" stroke="#000" stroke-width="0.22">4</text>
<line x1="317.90" y1="258.30" x2="317.90" y2="259.80" stroke="#707070" stroke-width="0.8"/>
<line x1="228.35" y1="225.47" x2="228.35" y2="230.60" stroke="#000" stroke-width="0.9"/>
<line x1="226.55" y1="225.47" x2="230.15" y2="225.47" stroke="#000" stroke-width="0.9"/>
<line x1="226.55" y1="230.60" x2="230.15" y2="230.60" stroke="#000" stroke-width="0.9"/>
<polyline points="198.50,177.25 228.35,227.01 258.20,248.55 288.05,252.14 317.90,252.66" stroke="#000" stroke-width="1.15" fill="none" stroke-linejoin="round"/>
<polygon points="198.50,175.25 200.50,177.25 198.50,179.25 196.50,177.25" fill="#fff" stroke="#000" stroke-width="1.0"/>
<polygon points="228.35,225.01 230.35,227.01 228.35,229.01 226.35,227.01" fill="#fff" stroke="#000" stroke-width="1.0"/>
<polygon points="258.20,246.55 260.20,248.55 258.20,250.55 256.20,248.55" fill="#fff" stroke="#000" stroke-width="1.0"/>
<polygon points="288.05,250.14 290.05,252.14 288.05,254.14 286.05,252.14" fill="#fff" stroke="#000" stroke-width="1.0"/>
<polygon points="317.90,250.66 319.90,252.66 317.90,254.66 315.90,252.66" fill="#fff" stroke="#000" stroke-width="1.0"/>
<line x1="198.50" y1="176.22" x2="198.50" y2="189.05" stroke="#000" stroke-width="0.9"/>
<line x1="196.70" y1="176.22" x2="200.30" y2="176.22" stroke="#000" stroke-width="0.9"/>
<line x1="196.70" y1="189.05" x2="200.30" y2="189.05" stroke="#000" stroke-width="0.9"/>
<line x1="228.35" y1="215.21" x2="228.35" y2="220.34" stroke="#000" stroke-width="0.9"/>
<line x1="226.55" y1="215.21" x2="230.15" y2="215.21" stroke="#000" stroke-width="0.9"/>
<line x1="226.55" y1="220.34" x2="230.15" y2="220.34" stroke="#000" stroke-width="0.9"/>
<line x1="258.20" y1="235.22" x2="258.20" y2="241.88" stroke="#000" stroke-width="0.9"/>
<line x1="256.40" y1="235.22" x2="260.00" y2="235.22" stroke="#000" stroke-width="0.9"/>
<line x1="256.40" y1="241.88" x2="260.00" y2="241.88" stroke="#000" stroke-width="0.9"/>
<line x1="288.05" y1="243.94" x2="288.05" y2="248.04" stroke="#000" stroke-width="0.9"/>
<line x1="286.25" y1="243.94" x2="289.85" y2="243.94" stroke="#000" stroke-width="0.9"/>
<line x1="286.25" y1="248.04" x2="289.85" y2="248.04" stroke="#000" stroke-width="0.9"/>
<line x1="317.90" y1="248.55" x2="317.90" y2="252.14" stroke="#000" stroke-width="0.9"/>
<line x1="316.10" y1="248.55" x2="319.70" y2="248.55" stroke="#000" stroke-width="0.9"/>
<line x1="316.10" y1="252.14" x2="319.70" y2="252.14" stroke="#000" stroke-width="0.9"/>
<polyline points="198.50,177.25 228.35,217.98 258.20,238.60 288.05,245.78 317.90,250.09" stroke="#000" stroke-width="1.25" fill="none" stroke-linejoin="round"/>
<rect x="196.80" y="175.55" width="3.40" height="3.40" fill="#000"/>
<rect x="226.65" y="216.28" width="3.40" height="3.40" fill="#000"/>
<rect x="256.50" y="236.90" width="3.40" height="3.40" fill="#000"/>
<rect x="286.35" y="244.08" width="3.40" height="3.40" fill="#000"/>
<rect x="316.20" y="248.39" width="3.40" height="3.40" fill="#000"/>
<line x1="258.20" y1="247.01" x2="258.20" y2="252.14" stroke="#000" stroke-width="0.9"/>
<line x1="256.40" y1="247.01" x2="260.00" y2="247.01" stroke="#000" stroke-width="0.9"/>
<line x1="256.40" y1="252.14" x2="260.00" y2="252.14" stroke="#000" stroke-width="0.9"/>
<polyline points="198.50,177.25 228.35,229.06 258.20,249.07 288.05,253.99 317.90,253.89" stroke="#000" stroke-width="1.25" fill="none" stroke-linejoin="round"/>
<polygon points="198.50,175.15 196.40,178.82 200.60,178.82" fill="#fff" stroke="#000" stroke-width="1.0"/>
<polygon points="228.35,226.96 226.25,230.63 230.45,230.63" fill="#fff" stroke="#000" stroke-width="1.0"/>
<polygon points="258.20,246.97 256.10,250.64 260.30,250.64" fill="#fff" stroke="#000" stroke-width="1.0"/>
<polygon points="288.05,251.89 285.95,255.57 290.15,255.57" fill="#fff" stroke="#000" stroke-width="1.0"/>
<polygon points="317.90,251.79 315.80,255.46 320.00,255.46" fill="#fff" stroke="#000" stroke-width="1.0"/>
<rect x="279.4" y="176.3" width="48.10000000000002" height="35.29999999999998" fill="#fff" stroke="#8c8c8c" stroke-width="1.0"/>
<line x1="281.70" y1="183.40" x2="297.30" y2="183.40" stroke="#000" stroke-width="1.0"/>
<polygon points="289.50,181.40 291.50,183.40 289.50,185.40 287.50,183.40" fill="#fff" stroke="#000" stroke-width="1.0"/>
<text x="299.70" y="185.64" font-size="6.6" text-anchor="start" font-weight="normal" font-family="'Liberation Serif', serif" fill="#000" stroke="#000" stroke-width="0.22">Mo</text>
<line x1="281.70" y1="194.60" x2="297.30" y2="194.60" stroke="#000" stroke-width="1.1"/>
<rect x="287.80" y="192.90" width="3.40" height="3.40" fill="#000"/>
<text x="299.70" y="196.84" font-size="6.6" text-anchor="start" font-weight="normal" font-family="'Liberation Serif', serif" fill="#000" stroke="#000" stroke-width="0.22">Mo+HZ</text>
<line x1="281.70" y1="206.00" x2="297.30" y2="206.00" stroke="#000" stroke-width="1.1"/>
<polygon points="289.50,203.90 287.40,207.57 291.60,207.57" fill="#fff" stroke="#000" stroke-width="1.0"/>
<text x="299.70" y="208.24" font-size="6.6" text-anchor="start" font-weight="normal" font-family="'Liberation Serif', serif" fill="#000" stroke="#000" stroke-width="0.22">Mo+RBC</text>
<text x="265.30" y="282.40" font-size="6.5" text-anchor="middle" font-weight="bold" font-family="'Liberation Serif', serif" fill="#000" stroke="#000" stroke-width="0.05">TIME (DAYS)</text>
<text x="0" y="0" font-size="6.6" text-anchor="middle" font-weight="normal" font-family="'Liberation Serif', serif" fill="#000" stroke="#000" stroke-width="0.1" transform="translate(179.90 214.40) rotate(-90)">CD34 (MFI)</text>
<text x="260.40" y="225.50" font-size="5.6" text-anchor="middle" font-weight="normal" font-family="'Liberation Serif', serif" fill="#333" stroke="#333" stroke-width="0.15">*</text>
<text x="0" y="0" font-size="6.2" text-anchor="middle" font-weight="normal" font-family="'Liberation Serif', serif" fill="#000" stroke="#000" stroke-width="0.2" transform="translate(230.90 207.60) scale(0.75 1)">§</text>
<text x="0" y="0" font-size="6.2" text-anchor="middle" font-weight="normal" font-family="'Liberation Serif', serif" fill="#000" stroke="#000" stroke-width="0.2" transform="translate(290.50 236.10) scale(0.75 1)">§</text>
<path d="M372.60,92.00 L372.95,92.37 L373.30,93.17 L373.65,94.69 L374.00,93.90 L374.50,94.42 L375.00,95.04 L375.50,94.32 L376.07,94.81 L376.65,94.71 L377.23,94.75 L377.80,92.36 L378.06,92.40 L378.32,91.25 L378.58,92.72 L378.84,91.84 L379.10,89.47 L379.36,91.55 L379.62,90.95 L379.88,89.53 L380.14,88.87 L380.40,87.04 L380.66,86.03 L380.91,86.85 L381.17,84.92 L381.43,84.68 L381.69,84.21 L381.94,83.00 L382.20,83.60 L382.53,83.00 L382.86,83.60 L383.19,82.17 L383.51,81.98 L383.84,81.06 L384.17,80.98 L384.50,79.88 L384.86,78.85 L385.21,80.34 L385.57,79.80 L385.93,78.84 L386.29,77.94 L386.64,76.31 L387.00,75.54 L387.29,75.10 L387.57,73.87 L387.86,75.20 L388.14,73.56 L388.43,74.20 L388.71,72.30 L389.00,73.28 L389.34,72.37 L389.68,69.40 L390.02,69.39 L390.36,70.75 L390.70,68.92 L391.06,69.85 L391.42,67.71 L391.78,66.30 L392.14,67.36 L392.50,67.28 L392.88,65.38 L393.26,64.38 L393.64,64.59 L394.02,65.88 L394.40,64.82 L395.00,63.01 L395.60,63.34 L396.20,62.91 L396.80,62.77 L397.45,64.58 L398.10,62.60 L398.68,63.42 L399.25,62.85 L399.82,61.88 L400.40,63.15 L401.10,61.13 L401.80,62.24 L402.50,60.43 L403.13,61.11 L403.77,60.36 L404.40,60.36 L404.97,62.07 L405.55,61.35 L406.12,59.70 L406.70,61.08 L407.23,58.86 L407.77,59.04 L408.30,59.99 L408.76,59.90 L409.22,58.88 L409.68,61.87 L410.14,60.20 L410.60,60.82 L410.83,62.83 L411.06,62.16 L411.29,62.64 L411.51,62.59 L411.74,63.21 L411.97,65.16 L412.20,64.78 L412.36,66.43 L412.51,66.43 L412.67,67.30 L412.83,69.36 L412.99,68.67 L413.14,69.57 L413.30,71.03 L413.48,69.70 L413.66,70.20 L413.83,72.89 L414.01,73.22 L414.19,72.22 L414.37,72.63 L414.54,74.75 L414.72,75.90 L414.90,74.40 L415.08,77.09 L415.26,77.49 L415.43,77.29 L415.61,77.36 L415.79,77.06 L415.97,77.46 L416.14,80.63 L416.32,79.18 L416.50,81.07 L416.74,80.38 L416.98,82.52 L417.22,82.45 L417.46,82.16 L417.71,82.39 L417.95,84.47 L418.19,83.20 L418.43,84.21 L418.67,85.70 L418.91,87.07 L419.15,86.97 L419.39,86.59 L419.64,88.93 L419.88,87.49 L420.12,87.53 L420.36,88.79 L420.60,89.85 L420.93,89.29 L421.25,90.13 L421.58,91.19 L421.90,92.28 L422.23,91.56 L422.55,92.73 L422.88,94.73 L423.20,95.50 L423.53,95.11 L423.85,95.72 L424.18,95.94 L424.50,95.22 L424.82,95.44 L425.15,95.91 L425.48,98.93 L425.80,98.86 L426.26,100.10 L426.71,97.96 L427.17,100.18 L427.63,100.25 L428.09,101.45 L428.54,100.79 L429.00,103.20 L429.50,101.06 L430.00,102.83 L430.50,103.81 L431.00,104.72 L431.50,104.71 L432.00,105.07 L432.50,105.70 L433.00,106.41 L433.50,105.21 L434.00,106.52 L434.50,107.50 L435.00,107.79 L435.50,106.89 L436.00,108.31 L436.50,108.87 L437.00,108.40 L437.50,108.90 L438.00,108.57 L438.50,109.48 L439.00,109.90 L439.50,108.77 L440.00,110.69 L440.57,112.00 L441.14,111.99 L441.71,111.88 L442.29,111.24 L442.86,112.53 L443.43,112.41 L444.00,112.33 L444.57,113.66 L445.14,111.76 L445.71,113.84 L446.29,112.04 L446.86,113.86 L447.43,113.73 L448.00,113.24 L448.62,114.74 L449.25,114.37 L449.88,114.88 L450.50,115.93 L451.12,114.25 L451.75,113.76 L452.38,114.76 L453.00,116.00 L453.64,114.76 L454.27,114.76 L454.91,116.91 L455.55,116.31 L456.18,115.79 L456.82,117.14 L457.45,115.65 L458.09,116.69 L458.73,115.47 L459.36,116.22 L460.00,117.36 L460.60,117.68 L461.20,117.60 L461.80,116.24 L462.40,116.81 L463.00,116.09 L463.60,115.60 L464.20,116.63 L464.80,117.60 L465.40,117.66 L466.00,117.29 L466.60,117.98 L467.20,116.12 L467.80,115.83 L468.40,116.64 L469.00,116.17 L469.60,116.02 L470.20,116.60 L470.80,117.21 L471.40,116.86 L472.00,116.38 L472.60,117.87 L473.20,118.29 L473.80,116.83 L474.40,115.79 L475.00,115.69 L475.60,118.06 L476.20,115.76 L476.80,117.64 L477.40,117.28 L478.00,117.10 L478,117.2 L372.5,117.2 Z" fill="#b3b3b3" stroke="#8a8a8a" stroke-width="0.6"/>
<path d="M400.68,62.54 L400.88,63.33 L401.09,61.29 L401.29,61.02 L401.50,60.78 L401.90,60.65 L402.30,59.10 L402.70,59.42 L403.10,58.19 L403.50,57.20 L404.03,56.69 L404.57,55.95 L405.10,55.28 L405.63,54.87 L406.17,55.22 L406.70,55.19 L407.30,54.39 L407.90,54.74 L408.50,56.78 L408.88,56.65 L409.27,57.05 L409.65,57.38 L410.03,58.55 L410.42,59.52 L410.80,59.53 L411.16,60.13 L411.51,60.20 L411.87,62.24 L412.23,61.48 L412.59,62.88 L412.94,64.08 L413.30,63.61 L413.57,65.26 L413.83,66.30 L414.10,66.48 L414.37,67.43 L414.63,67.03 L414.90,68.25 L415.17,68.48 L415.43,70.28 L415.70,70.10 L415.97,71.04 L416.23,72.61 L416.50,73.06 L416.84,73.96 L417.19,73.81 L417.53,74.56 L417.88,75.64 L418.22,75.94 L418.57,76.33 L418.91,77.21 L419.26,77.49 L419.60,78.55 L419.88,80.24 L420.16,80.89 L420.45,81.07 L420.73,81.57 L421.01,82.01 L421.29,82.32 L421.57,83.32 L421.85,84.84 L422.14,85.68 L422.42,85.57 L422.70,86.96 L422.97,87.61 L423.25,88.14 L423.52,88.76 L423.80,89.58 L424.07,89.61 L424.35,90.83 L424.62,90.82 L424.90,91.81 L425.18,92.93 L425.45,93.47 L425.73,93.50 L426.00,95.21 L426.33,95.36 L426.67,95.88 L427.00,95.59 L427.33,97.08 L427.67,97.23 L428.00,98.52 L428.33,98.82 L428.67,100.01 L429.00,100.36 L429.33,101.23 L429.67,101.13 L430.00,102.23 L430.46,102.92 L430.92,103.60 L431.38,103.38 L431.85,104.70 L432.31,105.28 L432.77,105.53 L433.23,106.53 L433.69,107.04 L434.15,106.88 L434.62,107.43 L435.08,107.39 L435.54,109.00 L436.00,109.70 L436.60,109.41 L437.20,110.21 L437.80,110.70 L438.40,111.17 L439.00,110.72 L439.60,112.15 L440.20,112.28 L440.80,112.86 L441.40,112.92 L442.00,113.70 L442.73,114.15 L443.45,114.14 L444.18,114.48 L444.91,113.58 L445.64,114.00 L446.36,114.66 L447.09,115.20 L447.82,114.72 L448.55,115.68 L449.27,115.80 L450.00,115.07 L450.71,115.80 L451.43,115.46 L452.14,115.23 L452.86,115.40 L453.57,115.75 L454.29,115.58 L455.00,115.64 L455.71,115.44 L456.43,116.17 L457.14,116.08 L457.86,116.50 L458.57,116.52 L459.29,116.00 L460.00,117.11 L460.71,115.72 L461.43,116.41 L462.14,116.26 L462.86,116.51 L463.57,116.09 L464.29,117.28 L465.00,116.80" fill="none" stroke="#444" stroke-width="0.8" stroke-dasharray="0.9 0.9"/>
<path d="M372.60,100.00 L372.98,99.09 L373.36,98.85 L373.74,98.04 L374.12,97.72 L374.50,97.15 L374.60,95.78 L374.70,95.02 L374.80,95.30 L374.90,93.91 L375.00,93.18 L375.10,93.39 L375.20,92.06 L375.30,91.80 L375.40,90.67 L375.50,90.17 L375.60,88.83 L375.70,88.66 L375.80,88.19 L375.90,87.03 L376.00,86.54 L376.10,85.71 L376.20,84.23 L376.30,84.31 L376.37,83.40 L376.44,82.33 L376.51,81.29 L376.59,81.58 L376.66,80.40 L376.73,79.98 L376.80,79.45 L376.87,78.54 L376.94,78.08 L377.01,76.73 L377.09,76.50 L377.16,75.36 L377.23,75.24 L377.30,74.45 L377.41,72.79 L377.52,72.11 L377.63,71.48 L377.74,71.65 L377.85,70.29 L377.95,69.79 L378.06,68.67 L378.17,68.19 L378.28,67.32 L378.39,66.55 L378.50,66.10 L378.64,65.36 L378.78,65.00 L378.92,63.99 L379.06,63.54 L379.19,62.71 L379.33,62.12 L379.47,60.99 L379.61,59.64 L379.75,59.73 L379.93,59.10 L380.11,58.27 L380.29,57.11 L380.46,56.53 L380.64,55.17 L380.82,55.16 L381.00,54.09 L381.20,52.99 L381.40,51.98 L381.60,52.17 L381.80,51.59 L382.00,49.76 L382.20,49.86 L382.40,48.67 L382.60,47.64 L382.80,47.09 L383.00,46.93 L383.20,46.34 L383.40,44.62 L383.60,44.58 L383.80,43.18 L384.00,43.26 L384.32,42.05 L384.65,41.96 L384.98,41.33 L385.30,40.01 L386.50,40.60 L387.00,40.52 L387.50,40.99 L387.75,42.31 L388.00,42.31 L388.25,43.20 L388.50,44.14 L388.75,45.07 L389.00,45.21 L389.25,45.76 L389.50,47.44 L389.73,47.45 L389.95,48.90 L390.18,49.49 L390.41,49.54 L390.64,50.32 L390.86,51.06 L391.09,51.88 L391.32,52.50 L391.55,53.13 L391.77,53.87 L392.00,54.93 L392.24,55.14 L392.48,55.78 L392.72,56.85 L392.96,57.01 L393.20,57.81 L393.44,59.35 L393.68,59.54" fill="none" stroke="#7a7a7a" stroke-width="1.0" stroke-dasharray="1 0.8"/>
<path d="M393.68,59.54 L393.92,60.30 L394.16,60.38 L394.40,61.60 L394.63,62.50 L394.87,62.52 L395.10,63.94 L395.33,64.66 L395.57,64.67 L395.80,66.05 L396.03,66.56 L396.27,67.52 L396.50,67.82 L396.70,68.95 L396.90,69.69 L397.10,69.53 L397.30,70.27 L397.50,71.71 L397.70,72.76 L397.90,72.60 L398.10,73.55 L398.30,74.41 L398.50,74.78 L398.73,75.56 L398.95,76.23 L399.18,77.02 L399.41,78.02 L399.64,78.40 L399.86,79.22 L400.09,80.42 L400.32,80.25 L400.55,81.63 L400.77,82.55 L401.00,82.77 L401.25,83.33 L401.50,84.70 L401.75,84.69 L402.00,85.29 L402.25,86.26 L402.50,87.24 L402.75,87.19 L403.00,88.12 L403.25,88.80 L403.50,90.07 L403.75,90.26 L404.00,91.43 L404.30,91.30 L404.60,92.20 L404.90,93.28 L405.20,94.26 L405.50,94.44 L405.80,94.87 L406.10,95.45 L406.40,96.64 L406.70,96.93 L407.00,98.37 L407.38,99.09 L407.75,99.00 L408.12,99.80 L408.50,101.12 L408.88,101.61 L409.25,102.49 L409.62,102.63 L410.00,103.06 L410.44,103.81 L410.89,104.96 L411.33,104.89 L411.78,105.54 L412.22,106.18 L412.67,106.74 L413.11,107.28 L413.56,108.45 L414.00,108.09 L414.60,108.31 L415.20,109.83 L415.80,110.16 L416.40,110.68 L417.00,110.42 L417.60,111.44 L418.20,111.81 L418.80,111.37 L419.40,112.39 L420.00,112.90 L420.67,112.92 L421.33,112.96 L422.00,112.91 L422.67,113.19 L423.33,113.27 L424.00,113.30 L424.67,114.15 L425.33,114.00 L426.00,114.85 L426.67,114.15 L427.33,115.40 L428.00,115.37 L428.67,115.87 L429.33,116.06 L430.00,116.28 L430.71,115.98 L431.43,115.39 L432.14,116.35 L432.86,115.75 L433.57,115.99 L434.29,116.51 L435.00,116.43 L435.71,116.38 L436.43,117.10 L437.14,116.79 L437.86,116.55 L438.57,116.53 L439.29,117.35 L440.00,117.00" fill="none" stroke="#8e8e8e" stroke-width="0.8" stroke-dasharray="0.9 0.9"/>
<path d="M372.60,112.60 L373.15,112.40 L373.70,112.07 L374.25,111.39 L374.80,113.03 L375.35,110.85 L375.90,111.93 L376.45,112.77 L377.00,110.69 L377.52,111.75 L378.04,111.82 L378.56,110.36 L379.08,111.09 L379.60,111.79 L380.12,111.10 L380.64,111.68 L381.16,110.24 L381.68,110.35 L382.20,109.97 L382.67,110.75 L383.15,111.59 L383.62,110.63 L384.09,110.90 L384.56,109.80 L385.04,110.51 L385.51,108.80 L385.98,109.09 L386.45,109.85 L386.93,109.81 L387.40,108.91 L387.92,107.94 L388.44,108.20 L388.96,107.89 L389.48,107.89 L390.00,108.99 L390.52,107.36 L391.04,108.84 L391.56,108.65 L392.08,106.50 L392.60,107.11 L393.07,107.14 L393.55,105.78 L394.02,106.51 L394.49,107.43 L394.96,105.29 L395.44,106.21 L395.91,104.84 L396.38,105.70 L396.85,106.22 L397.33,104.32 L397.80,103.62 L398.23,103.51 L398.67,104.31 L399.10,102.77 L399.53,102.64 L399.97,103.33 L400.40,104.06 L400.83,102.57 L401.27,102.22 L401.70,102.51 L402.13,100.91 L402.57,101.78 L403.00,100.51 L403.40,101.22 L403.80,101.72 L404.20,99.21 L404.60,100.07 L405.00,99.86 L405.30,98.32 L405.60,98.17 L405.90,99.48 L406.20,99.05 L406.50,96.50 L406.80,97.47 L407.10,97.62 L407.40,95.47 L407.69,95.93 L407.98,94.14 L408.27,94.48 L408.56,94.78 L408.84,94.15 L409.13,94.16 L409.42,92.07 L409.71,92.27 L410.00,93.07 L410.27,91.97 L410.55,91.22 L410.82,90.67 L411.10,91.63 L411.38,90.21 L411.65,88.44 L411.93,89.89 L412.20,88.32 L412.48,88.14 L412.75,87.18 L413.03,87.30 L413.30,86.58 L413.50,85.54 L413.70,86.36 L413.90,84.62 L414.10,85.78 L414.30,83.48 L414.50,84.82 L414.70,84.40 L414.90,83.18 L415.10,83.22 L415.30,81.63 L415.50,82.33 L415.70,81.11 L415.90,80.16 L416.10,81.45 L416.30,79.62 L416.50,79.08 L416.70,79.77 L416.90,78.12 L417.10,78.35 L417.30,76.69 L417.50,77.82 L417.70,75.92 L417.90,74.92 L418.10,76.64 L418.30,74.21 L418.50,75.57 L418.70,75.17 L418.90,73.76 L419.10,71.83 L419.30,71.45 L419.50,71.30 L419.68,71.25 L419.87,71.31 L420.05,71.68 L420.23,69.73 L420.42,68.74 L420.60,69.27 L420.78,67.78 L420.97,67.17 L421.15,67.82 L421.33,67.68 L421.52,65.69 L421.70,66.13 L421.87,66.27 L422.03,65.94 L422.20,64.55 L422.37,65.29 L422.53,63.09 L422.70,63.93 L422.87,63.60 L423.03,63.38 L423.20,61.99 L423.40,60.54 L423.60,59.92 L423.80,60.57 L424.00,59.22 L424.20,59.81 L424.40,58.00 L424.60,59.17 L424.80,57.33 L424.89,56.33 L424.98,56.22 L425.07,56.40 L425.16,56.14 L425.25,55.23 L425.35,54.22 L425.44,54.46 L425.53,55.07 L425.62,53.59 L425.71,54.06 L425.80,51.37 L426.04,53.14 L426.28,52.35 L426.52,50.99 L426.76,50.40 L427.00,49.89 L427.19,51.31 L427.37,49.81 L427.56,51.73 L427.74,52.02 L427.93,51.96 L428.11,53.51 L428.30,54.03 L428.70,52.05 L429.10,52.98 L429.50,51.89 L429.62,52.48 L429.73,53.33 L429.85,52.43 L429.97,54.25 L430.08,54.20 L430.20,55.91 L430.32,54.85 L430.43,56.78 L430.55,57.05 L430.67,57.30 L430.78,58.40 L430.90,56.89 L431.07,58.73 L431.24,59.27 L431.41,59.93 L431.59,59.78 L431.76,59.47 L431.93,60.25 L432.10,61.76 L432.27,61.24 L432.44,61.46 L432.61,62.65 L432.79,63.43 L432.96,64.09 L433.13,63.36 L433.30,65.66 L433.46,65.10 L433.62,66.68 L433.77,65.32 L433.93,68.09 L434.09,67.72 L434.25,69.14 L434.41,69.67 L434.57,69.80 L434.73,68.55 L434.88,69.64 L435.04,69.86 L435.20,71.67 L435.46,70.69 L435.72,71.20 L435.98,71.37 L436.23,71.82 L436.49,74.22 L436.75,74.74 L437.01,73.73 L437.27,75.05 L437.52,74.82 L437.78,75.39 L438.04,75.45 L438.30,76.52 L438.61,76.04 L438.93,76.56 L439.24,77.66 L439.56,77.36 L439.87,78.41 L440.19,80.09 L440.50,78.35 L440.79,78.98 L441.07,81.08 L441.36,79.72 L441.64,80.62 L441.93,82.49 L442.21,82.32 L442.50,81.83 L442.79,81.89 L443.07,82.85 L443.36,83.36 L443.65,85.01 L443.93,85.87 L444.22,85.87 L444.51,86.59 L444.79,87.11 L445.08,87.42 L445.37,87.97 L445.65,88.54 L445.94,86.89 L446.23,87.87 L446.51,88.15 L446.80,89.45 L447.16,89.55 L447.51,89.57 L447.87,91.11 L448.22,90.42 L448.58,90.33 L448.93,90.86 L449.29,91.67 L449.64,92.40 L450.00,92.66 L450.42,92.66 L450.84,92.35 L451.26,93.17 L451.68,93.28 L452.10,93.21 L452.52,94.41 L452.94,93.85 L453.36,95.41 L453.78,95.58 L454.20,94.63 L454.58,96.15 L454.96,95.81 L455.34,96.42 L455.72,97.16 L456.10,97.88 L456.48,98.52 L456.86,98.51 L457.24,97.61 L457.62,98.75 L458.00,98.60 L458.36,98.20 L458.71,99.84 L459.07,100.00 L459.43,101.31 L459.79,100.36 L460.14,101.94 L460.50,101.53 L460.86,100.89 L461.21,102.73 L461.57,102.05 L461.93,103.01 L462.29,102.26 L462.64,102.47 L463.00,105.01 L463.42,103.19 L463.83,103.74 L464.25,104.07 L464.67,104.20 L465.08,106.24 L465.50,106.94 L465.92,106.40 L466.33,106.08 L466.75,107.56 L467.17,106.93 L467.58,106.33 L468.00,107.96 L468.48,107.42 L468.96,107.46 L469.43,107.84 L469.91,108.25 L470.39,108.02 L470.87,109.30 L471.34,110.17 L471.82,109.71 L472.30,108.62 L472.78,110.47 L473.25,109.10 L473.73,110.42 L474.20,111.58 L474.68,111.35 L475.15,112.13 L475.62,111.99 L476.10,111.05 L476.57,110.97 L477.05,111.93 L477.52,112.71 L478.00,111.86 L478.50,112.28 L479.00,113.48 L479.50,112.70 L480.00,113.50 L480.50,113.56 L481.00,114.67 L481.50,112.69 L482.00,113.27 L482.50,114.88 L483.00,114.81 L483.49,113.59 L483.98,113.85 L484.46,114.19 L484.95,115.15 L485.44,116.18 L485.93,114.69 L486.41,114.82 L486.90,116.15 L487.39,115.68 L487.88,116.86 L488.36,117.39 L488.85,117.40 L489.34,117.03 L489.82,116.67 L490.31,115.78 L490.80,117.00" fill="none" stroke="#5a5a5a" stroke-width="0.75"/>
<line x1="372.50" y1="23.60" x2="372.50" y2="117.20" stroke="#333" stroke-width="0.8"/>
<line x1="372.50" y1="117.20" x2="509.00" y2="117.20" stroke="#777" stroke-width="0.8"/>
<text x="0" y="0" font-size="6.6" text-anchor="middle" font-weight="bold" font-family="'Liberation Serif', serif" fill="#000" stroke="#000" stroke-width="0.25" transform="translate(370.70 24.50) rotate(-90) scale(0.88 1)">432</text>
<text x="0" y="0" font-size="5.6" text-anchor="middle" font-weight="bold" font-family="'Liberation Serif', serif" fill="#000" stroke="#000" stroke-width="0.15" transform="translate(369.80 117.50) rotate(-90)">0</text>
<text x="372.30" y="124.30" font-size="6.0" text-anchor="middle" font-weight="bold" font-family="'Liberation Serif', serif" fill="#000" stroke="#000" stroke-width="0.25">10</text>
<text x="376.10" y="121.90" font-size="3.3" text-anchor="middle" font-weight="bold" font-family="'Liberation Serif', serif" fill="#000" stroke="#000" stroke-width="0.1">0</text>
<text x="405.90" y="124.30" font-size="6.0" text-anchor="middle" font-weight="bold" font-family="'Liberation Serif', serif" fill="#000" stroke="#000" stroke-width="0.25">10</text>
<text x="409.70" y="121.90" font-size="3.3" text-anchor="middle" font-weight="bold" font-family="'Liberation Serif', serif" fill="#000" stroke="#000" stroke-width="0.1">1</text>
<text x="440.20" y="124.30" font-size="6.0" text-anchor="middle" font-weight="bold" font-family="'Liberation Serif', serif" fill="#000" stroke="#000" stroke-width="0.25">10</text>
<text x="444.00" y="121.90" font-size="3.3" text-anchor="middle" font-weight="bold" font-family="'Liberation Serif', serif" fill="#000" stroke="#000" stroke-width="0.1">2</text>
<text x="473.10" y="124.30" font-size="6.0" text-anchor="middle" font-weight="bold" font-family="'Liberation Serif', serif" fill="#000" stroke="#000" stroke-width="0.25">10</text>
<text x="476.90" y="121.90" font-size="3.3" text-anchor="middle" font-weight="bold" font-family="'Liberation Serif', serif" fill="#000" stroke="#000" stroke-width="0.1">3</text>
<text x="506.20" y="124.30" font-size="6.0" text-anchor="middle" font-weight="bold" font-family="'Liberation Serif', serif" fill="#000" stroke="#000" stroke-width="0.25">10</text>
<text x="510.00" y="121.90" font-size="3.3" text-anchor="middle" font-weight="bold" font-family="'Liberation Serif', serif" fill="#000" stroke="#000" stroke-width="0.1">4</text>
<text x="398.40" y="29.40" font-size="7.3" text-anchor="middle" font-weight="normal" font-family="'Liberation Serif', serif" fill="#000" stroke="#000" stroke-width="0.12">HZ</text>
<text x="416.30" y="29.40" font-size="7.3" text-anchor="middle" font-weight="normal" font-family="'Liberation Serif', serif" fill="#000" stroke="#000" stroke-width="0.12">HNE</text>
<text x="447.20" y="29.40" font-size="7.3" text-anchor="middle" font-weight="normal" font-family="'Liberation Serif', serif" fill="#000" stroke="#000" stroke-width="0.12">CTRL</text>
<line x1="397.60" y1="31.70" x2="398.60" y2="63.50" stroke="#222" stroke-width="0.8"/>
<line x1="416.40" y1="31.00" x2="408.50" y2="52.50" stroke="#222" stroke-width="0.8"/>
<line x1="444.80" y1="31.00" x2="430.50" y2="54.60" stroke="#222" stroke-width="0.8"/>
<text x="0" y="0" font-size="7.6" text-anchor="middle" font-weight="normal" font-family="'Liberation Serif', serif" fill="#000" stroke="#000" stroke-width="0.05" transform="translate(366.20 75.30) rotate(-90)">EVENTS</text>
<text x="449.50" y="140.20" font-size="8.2" text-anchor="middle" font-weight="normal" font-family="'Liberation Serif', serif" fill="#000" stroke="#000" stroke-width="0.1">GLYCOPHORIN A</text>
<path d="M380.00,262.90 L380.67,262.06 L381.33,263.12 L382.00,262.90 L382.67,262.45 L383.33,261.78 L384.00,262.94 L384.57,262.79 L385.14,261.96 L385.71,261.75 L386.29,260.98 L386.86,260.28 L387.43,260.90 L388.00,261.19 L388.57,259.77 L389.14,261.07 L389.71,259.55 L390.29,259.27 L390.86,258.56 L391.43,260.38 L392.00,259.53 L392.50,259.41 L393.00,258.42 L393.50,256.72 L394.00,256.96 L394.50,256.91 L395.00,255.65 L395.47,257.04 L395.94,255.30 L396.41,254.37 L396.89,255.37 L397.36,253.39 L397.83,254.70 L398.30,253.20 L398.64,252.91 L398.98,251.95 L399.32,251.77 L399.66,250.61 L400.00,249.78 L400.34,251.10 L400.68,249.22 L401.02,249.92 L401.36,248.16 L401.70,249.33 L401.94,248.57 L402.17,247.67 L402.41,247.10 L402.64,246.11 L402.88,245.84 L403.11,243.91 L403.35,244.10 L403.59,244.28 L403.82,242.31 L404.06,243.30 L404.29,242.63 L404.53,240.99 L404.76,240.30 L405.00,239.89 L405.47,239.30 L405.93,240.20 L406.40,238.42 L406.87,237.18 L407.33,236.88 L407.80,237.81 L408.27,237.97 L408.73,236.44 L409.20,235.98 L409.73,235.83 L410.27,235.98 L410.80,234.54 L411.33,235.11 L411.87,234.71 L412.40,234.57 L412.89,233.23 L413.37,232.83 L413.86,232.85 L414.34,233.75 L414.83,232.11 L415.31,232.29 L415.80,231.27 L416.09,230.25 L416.38,229.59 L416.67,230.66 L416.96,230.00 L417.24,228.54 L417.53,228.64 L417.82,228.04 L418.11,227.95 L418.40,227.51 L418.57,225.72 L418.75,226.42 L418.92,225.78 L419.09,224.38 L419.27,224.44 L419.44,223.00 L419.61,222.17 L419.79,221.30 L419.96,222.11 L420.13,219.96 L420.31,219.17 L420.48,220.21 L420.65,219.56 L420.83,218.34 L421.00,218.54 L421.27,216.25 L421.55,216.13 L421.82,215.64 L422.10,215.36 L422.38,214.24 L422.65,213.45 L422.93,213.48 L423.20,214.14 L423.48,213.76 L423.75,212.67 L424.03,211.52 L424.30,210.45 L424.58,211.48 L424.87,209.99 L425.15,209.90 L425.43,207.83 L425.72,207.70 L426.00,208.54 L426.30,207.87 L426.60,207.47 L426.90,206.27 L427.20,205.30 L427.50,205.06 L427.80,205.07 L428.37,203.64 L428.93,203.91 L429.50,203.11 L429.94,204.79 L430.38,203.72 L430.81,205.81 L431.25,207.00 L431.40,205.54 L431.54,207.37 L431.69,208.07 L431.83,209.11 L431.98,209.10 L432.12,208.97 L432.27,209.88 L432.42,211.68 L432.56,212.14 L432.71,211.03 L432.85,211.53 L433.00,212.11 L433.17,212.54 L433.33,214.05 L433.50,213.96 L433.67,216.14 L433.83,216.26 L434.00,215.68 L434.17,217.17 L434.33,217.28 L434.50,218.24 L434.67,218.22 L434.83,218.68 L435.00,219.30 L435.10,220.33 L435.20,221.66 L435.30,221.91 L435.40,221.40 L435.50,223.46 L435.60,224.42 L435.70,224.80 L435.80,225.44 L435.90,224.32 L436.00,225.92 L436.10,225.64 L436.20,227.78 L436.30,227.09 L436.40,228.87 L436.50,228.46 L436.60,230.03 L436.70,229.79 L436.80,229.79 L436.90,231.16 L437.00,231.58 L437.10,233.48 L437.20,232.75 L437.30,233.81 L437.40,234.51 L437.50,235.99 L437.73,234.73 L437.95,236.44 L438.18,236.85 L438.41,237.95 L438.64,239.07 L438.86,238.24 L439.09,239.70 L439.32,239.93 L439.55,240.62 L439.77,240.13 L440.00,242.39 L440.27,243.30 L440.55,242.48 L440.82,242.95 L441.10,244.99 L441.38,243.59 L441.65,244.07 L441.93,244.61 L442.20,246.79 L442.48,247.22 L442.75,247.09 L443.03,248.02 L443.30,247.24 L443.68,249.13 L444.07,249.20 L444.45,249.88 L444.84,250.12 L445.22,250.66 L445.61,250.79 L445.99,250.92 L446.38,252.28 L446.76,252.38 L447.15,253.90 L447.53,254.67 L447.92,254.98 L448.30,254.90 L448.75,254.87 L449.21,255.66 L449.66,256.33 L450.12,257.11 L450.57,258.29 L451.03,256.82 L451.48,258.14 L451.94,258.62 L452.39,259.57 L452.85,260.40 L453.30,260.61 L453.86,260.53 L454.41,261.08 L454.97,261.14 L455.52,261.81 L456.08,261.72 L456.63,261.94 L457.19,261.23 L457.74,262.96 L458.30,262.05 L458.93,262.64 L459.55,263.19 L460.18,263.58 L460.80,263.73 L461.43,261.65 L462.05,262.41 L462.68,262.50 L463.30,263.00 L382.2,263.0 Z" fill="#7d7d7d" stroke="#6a6a6a" stroke-width="0.5"/>
<path d="M372.30,261.50 L372.93,261.24 L373.56,262.07 L374.19,261.87 L374.82,260.81 L375.45,261.80 L376.08,261.37 L376.71,260.36 L377.34,261.75 L377.96,260.58 L378.59,260.60 L379.22,260.73 L379.85,260.94 L380.48,260.13 L381.11,260.98 L381.74,261.15 L382.37,260.58 L383.00,260.97 L383.57,260.51 L384.14,260.64 L384.71,259.42 L385.28,259.51 L385.85,259.50 L386.42,258.73 L386.99,259.93 L387.56,259.20 L388.13,258.15 L388.70,258.73 L389.27,258.27 L389.84,257.72 L390.41,257.49 L390.98,257.78 L391.55,256.96 L392.12,257.56 L392.69,257.29 L393.26,256.48 L393.83,257.49 L394.40,255.96 L394.80,255.65 L395.20,256.16 L395.60,254.69 L396.00,254.49 L396.40,254.18 L396.80,253.46 L397.20,253.04 L397.60,252.53 L398.00,251.97 L398.25,250.71 L398.50,251.34 L398.75,249.90 L399.00,248.94 L399.25,248.94 L399.50,249.00 L399.75,248.12 L400.00,247.26 L400.25,246.71 L400.50,245.72 L400.75,245.77 L401.00,244.76 L401.13,243.70 L401.27,243.21 L401.40,242.55 L401.53,242.90 L401.67,242.61 L401.80,241.81 L401.93,240.35 L402.07,239.64 L402.20,240.32 L402.33,238.80 L402.47,237.87 L402.60,237.91 L402.73,237.39 L402.87,236.67 L403.00,235.92 L403.10,235.08 L403.20,234.78 L403.30,234.12 L403.40,233.87 L403.50,232.90 L403.60,232.14 L403.70,232.55 L403.80,230.54 L403.90,230.97 L404.00,229.83 L404.10,229.84 L404.20,229.08 L404.30,228.25 L404.40,227.72 L404.50,226.50 L404.60,225.56 L404.70,226.12 L404.80,224.74 L404.90,223.90 L405.00,224.41 L405.10,223.46 L405.20,221.96 L405.30,222.14 L405.40,220.96 L405.62,221.48 L405.83,219.93 L406.05,220.40 L406.27,219.28 L406.48,217.83 L406.70,217.75 L406.92,218.05 L407.13,217.02 L407.35,215.55 L407.57,215.29 L407.78,214.54 L408.00,213.65 L408.29,213.87 L408.58,213.45 L408.88,212.10 L409.17,212.05 L409.46,211.96 L409.75,211.43 L410.33,210.51 L410.92,210.59 L411.50,212.16 L411.90,211.72 L412.30,211.97 L412.70,213.48 L413.10,213.12 L413.50,214.35 L413.75,214.93 L414.00,214.92 L414.25,215.81 L414.50,216.16 L414.75,217.62 L415.00,217.40 L415.25,218.01 L415.50,219.57 L415.72,219.25 L415.94,220.12 L416.17,220.86 L416.39,220.65 L416.61,221.71 L416.83,223.06 L417.06,224.05 L417.28,223.64 L417.50,224.46 L417.68,224.38 L417.86,225.66 L418.05,226.05 L418.23,226.87 L418.41,227.13 L418.59,227.75 L418.77,229.30 L418.95,229.67 L419.14,229.59 L419.32,229.72 L419.50,230.28 L419.65,230.97 L419.81,231.64 L419.96,232.98 L420.12,233.50 L420.27,233.48 L420.42,235.30 L420.58,235.58 L420.73,236.26 L420.88,237.17 L421.04,236.86 L421.19,238.41 L421.35,239.15 L421.50,239.65 L421.67,238.87 L421.83,240.76 L422.00,241.57 L422.17,240.77 L422.33,242.58 L422.50,243.10 L422.67,242.45 L422.83,244.13 L423.00,244.82 L423.17,245.40 L423.33,244.89 L423.50,246.95 L423.67,246.12 L423.83,246.74 L424.00,248.72 L424.21,248.54 L424.43,248.63 L424.64,249.55 L424.86,250.48 L425.07,250.49 L425.29,252.09 L425.50,252.28 L425.71,252.39 L425.93,252.93 L426.14,253.10 L426.36,255.06 L426.57,254.55 L426.79,256.13 L427.00,256.06 L427.38,256.52 L427.77,256.40 L428.15,257.39 L428.54,257.20 L428.92,258.22 L429.31,258.95 L429.69,259.91 L430.08,259.25 L430.46,259.64 L430.85,261.08 L431.23,260.49 L431.62,261.05 L432.00,261.97 L432.62,261.96 L433.23,262.94 L433.85,261.54 L434.46,262.90 L435.08,262.32 L435.69,261.88 L436.31,262.12 L436.92,263.27 L437.54,262.18 L438.15,262.65 L438.77,262.11 L439.38,262.90 L440.00,263.00" fill="none" stroke="#333" stroke-width="0.8" stroke-dasharray="0.9 0.9"/>
<path d="M372.30,226.00 L372.60,225.61 L372.90,225.07 L373.20,224.86 L373.50,223.01 L373.72,222.22 L373.93,222.85 L374.15,221.48 L374.37,220.96 L374.58,221.09 L374.80,219.49 L375.02,220.07 L375.23,218.82 L375.45,217.56 L375.67,218.34 L375.88,217.20 L376.10,215.83 L376.34,216.49 L376.57,215.83 L376.81,215.22 L377.05,214.53 L377.28,214.52 L377.52,212.39 L377.75,213.38 L377.99,212.29 L378.23,211.11 L378.46,211.13 L378.70,210.14 L378.90,210.04 L379.10,209.53 L379.30,208.64 L379.50,207.36 L379.70,207.23 L379.90,206.48 L380.10,206.60 L380.30,206.29 L380.50,205.44 L380.70,204.45 L380.90,203.27 L381.10,203.53 L381.30,202.22 L381.54,202.84 L381.77,200.97 L382.01,201.69 L382.25,199.61 L382.48,200.27 L382.72,199.03 L382.95,198.84 L383.19,198.03 L383.43,197.30 L383.66,196.95 L383.90,197.01 L384.50,195.86 L385.10,195.48 L385.70,195.75 L386.35,195.08 L387.00,195.67 L387.65,196.23 L388.30,196.53 L388.73,196.42 L389.15,197.82 L389.57,197.83 L390.00,197.65 L390.17,198.64 L390.34,198.79 L390.51,199.85 L390.68,200.08 L390.85,200.91 L391.02,201.99 L391.19,202.80 L391.36,202.78 L391.53,203.64 L391.70,204.32 L391.88,205.05 L392.06,206.17 L392.24,205.68 L392.42,207.18 L392.60,207.44 L392.78,208.59 L392.96,208.87 L393.14,208.39 L393.32,209.08 L393.50,210.88 L393.67,210.68 L393.84,211.80 L394.01,211.59 L394.18,212.94 L394.35,213.31 L394.52,214.00 L394.69,213.88 L394.86,215.91 L395.03,216.44 L395.20,216.89 L395.38,217.30 L395.56,217.28 L395.74,217.84 L395.92,219.48 L396.10,219.28 L396.28,219.97 L396.46,221.38 L396.64,221.13 L396.82,222.78 L397.00,222.09 L397.17,223.78 L397.33,223.50 L397.50,223.87 L397.67,225.01 L397.83,226.20 L398.00,225.66 L398.17,227.07 L398.33,228.10 L398.50,227.40 L398.67,228.75 L398.83,229.08 L399.00,229.95 L399.15,231.15 L399.31,231.13 L399.46,231.53 L399.62,231.99 L399.77,233.58 L399.92,233.13 L400.08,234.65 L400.23,235.72 L400.38,235.85 L400.54,236.80 L400.69,236.17 L400.85,237.56 L401.00,238.17 L401.18,237.92 L401.35,239.07 L401.53,239.45 L401.71,239.75 L401.88,240.78 L402.06,240.87 L402.24,242.79 L402.41,242.17 L402.59,243.37 L402.76,244.22 L402.94,243.70 L403.12,245.76 L403.29,246.32 L403.47,246.36 L403.65,246.86 L403.82,247.97 L404.00,248.00" fill="none" stroke="#7a7a7a" stroke-width="1.0" stroke-dasharray="1 0.8"/>
<path d="M372.30,258.50 L372.82,258.53 L373.34,258.11 L373.87,258.95 L374.39,257.90 L374.91,258.24 L375.43,257.89 L375.96,257.96 L376.48,258.91 L377.00,257.29 L377.50,257.83 L378.00,257.37 L378.50,257.53 L379.00,258.63 L379.50,257.36 L380.00,257.79 L380.50,257.39 L381.00,257.88 L381.50,257.30 L382.00,256.74 L382.50,257.15 L383.00,257.03 L383.50,257.51 L384.00,256.87 L384.50,255.99 L385.00,256.63 L385.50,255.74 L386.00,255.90 L386.50,255.16 L387.00,255.28 L387.50,255.74 L388.00,255.03 L388.41,255.13 L388.82,254.81 L389.23,254.17 L389.64,253.95 L390.05,253.18 L390.45,253.25 L390.86,253.21 L391.27,251.66 L391.68,252.84 L392.09,251.49 L392.50,250.75 L392.80,250.33 L393.10,250.23 L393.40,249.30 L393.70,249.46 L394.00,249.05 L394.30,249.04 L394.60,248.26 L394.90,248.66 L395.20,247.73 L395.50,246.68 L395.65,247.17 L395.80,246.36 L395.95,246.34 L396.10,245.42 L396.25,245.34 L396.40,243.47 L396.55,243.10 L396.70,243.85 L396.85,241.64 L397.00,242.76 L397.15,242.24 L397.30,240.34 L397.45,239.87 L397.60,240.75 L397.67,240.33 L397.74,239.67 L397.81,238.90 L397.88,238.47 L397.95,237.15 L398.02,236.11 L398.09,236.73 L398.16,236.69 L398.23,236.31 L398.30,235.03 L398.37,233.62 L398.44,233.41 L398.51,233.41 L398.58,232.52 L398.65,231.65 L398.72,231.45 L398.79,231.50 L398.86,230.33 L398.93,229.80 L399.00,229.40 L399.06,228.66 L399.11,229.51 L399.17,229.16 L399.23,227.46 L399.29,227.74 L399.34,227.68 L399.40,226.04 L399.46,225.70 L399.51,226.19 L399.57,225.47 L399.63,224.72 L399.69,224.53 L399.74,223.63 L399.80,222.67 L399.86,222.83 L399.91,222.51 L399.97,220.70 L400.03,220.68 L400.09,220.13 L400.14,220.70 L400.20,219.12 L400.33,219.32 L400.46,218.40 L400.59,217.80 L400.71,217.53 L400.84,217.75 L400.97,216.83 L401.10,215.85 L401.23,214.93 L401.36,214.78 L401.49,214.52 L401.61,214.34 L401.74,214.48 L401.87,212.78 L402.00,213.39 L402.11,212.83 L402.21,211.48 L402.32,210.58 L402.43,210.10 L402.53,210.83 L402.64,208.98 L402.74,209.32 L402.85,208.82 L402.96,207.44 L403.06,206.69 L403.17,207.28 L403.27,205.72 L403.38,206.11 L403.49,206.36 L403.59,204.94 L403.70,204.16 L404.00,203.29 L404.30,203.14 L404.60,202.68 L404.90,201.81 L405.20,202.36 L405.50,201.68 L405.93,201.46 L406.37,199.93 L406.80,199.75 L407.30,201.40 L407.80,200.18 L408.30,201.27 L408.78,201.74 L409.27,200.35 L409.75,200.00 L410.00,201.23 L410.25,201.02 L410.50,201.66 L410.75,202.25 L411.00,202.57 L411.25,203.70 L411.50,204.32 L411.69,204.86 L411.87,205.75 L412.06,204.61 L412.24,205.43 L412.43,207.24 L412.61,207.39 L412.80,207.82 L412.99,207.34 L413.17,207.67 L413.36,208.42 L413.54,210.03 L413.73,210.27 L413.91,210.07 L414.10,211.09 L414.24,211.73 L414.37,211.43 L414.51,211.61 L414.65,213.38 L414.78,213.70 L414.92,214.38 L415.06,214.77 L415.19,214.60 L415.33,215.63 L415.47,215.61 L415.61,217.08 L415.74,216.19 L415.88,217.72 L416.02,217.60 L416.15,219.12 L416.29,219.43 L416.43,218.80 L416.56,219.02 L416.70,219.92 L416.82,221.72 L416.94,221.87 L417.06,222.25 L417.19,221.85 L417.31,222.35 L417.43,223.26 L417.55,223.91 L417.67,224.55 L417.79,224.04 L417.91,225.95 L418.04,225.36 L418.16,226.70 L418.28,226.48 L418.40,226.93 L418.52,228.48 L418.64,227.82 L418.76,228.85 L418.88,230.03 L419.00,230.46 L419.12,230.77 L419.24,230.43 L419.36,231.64 L419.48,231.87 L419.60,232.08 L419.72,233.44 L419.84,233.77 L419.96,234.68 L420.08,234.35 L420.20,234.36 L420.31,235.09 L420.43,236.43 L420.54,236.86 L420.65,237.26 L420.76,237.31 L420.88,238.14 L420.99,237.72 L421.10,238.26 L421.21,240.05 L421.32,239.30 L421.44,240.72 L421.55,240.64 L421.66,240.91 L421.77,242.51 L421.89,243.19 L422.00,242.67 L422.14,242.86 L422.29,243.91 L422.43,243.77 L422.57,245.79 L422.71,244.60 L422.86,245.96 L423.00,245.83 L423.14,246.03 L423.29,248.31 L423.43,248.23 L423.57,248.77 L423.71,249.37 L423.86,249.89 L424.00,250.06 L424.14,250.65 L424.29,250.52 L424.43,250.62 L424.57,252.24 L424.71,252.74 L424.86,253.24 L425.00,253.56 L425.26,252.99 L425.53,254.45 L425.79,253.88 L426.05,255.74 L426.32,254.63 L426.58,255.53 L426.84,256.46 L427.11,257.50 L427.37,257.56 L427.63,257.06 L427.89,258.57 L428.16,258.08 L428.42,258.75 L428.68,259.24 L428.95,260.47 L429.21,259.85 L429.47,260.50 L429.74,260.86 L430.00,261.24 L430.50,261.25 L431.00,261.62 L431.50,261.32 L432.00,261.53 L432.50,261.34 L433.00,262.24 L433.50,262.51 L434.00,261.75 L434.50,262.19 L435.00,262.53 L435.50,263.27 L436.00,263.32 L436.50,261.85 L437.00,263.41 L437.50,263.23 L438.00,262.24 L438.50,262.26 L439.00,262.87 L439.50,262.55 L440.00,263.00" fill="none" stroke="#555" stroke-width="0.75"/>
<line x1="372.20" y1="170.70" x2="372.20" y2="263.00" stroke="#333" stroke-width="0.8"/>
<line x1="372.20" y1="263.00" x2="512.30" y2="263.00" stroke="#777" stroke-width="0.8"/>
<text x="0" y="0" font-size="6.6" text-anchor="middle" font-weight="bold" font-family="'Liberation Serif', serif" fill="#000" stroke="#000" stroke-width="0.25" transform="translate(370.60 169.80) rotate(-90) scale(0.88 1)">367</text>
<text x="0" y="0" font-size="5.6" text-anchor="middle" font-weight="bold" font-family="'Liberation Serif', serif" fill="#000" stroke="#000" stroke-width="0.15" transform="translate(369.80 263.30) rotate(-90)">0</text>
<text x="373.60" y="270.00" font-size="6.0" text-anchor="middle" font-weight="bold" font-family="'Liberation Serif', serif" fill="#000" stroke="#000" stroke-width="0.25">10</text>
<text x="377.40" y="267.60" font-size="3.3" text-anchor="middle" font-weight="bold" font-family="'Liberation Serif', serif" fill="#000" stroke="#000" stroke-width="0.1">0</text>
<text x="408.20" y="270.00" font-size="6.0" text-anchor="middle" font-weight="bold" font-family="'Liberation Serif', serif" fill="#000" stroke="#000" stroke-width="0.25">10</text>
<text x="412.00" y="267.60" font-size="3.3" text-anchor="middle" font-weight="bold" font-family="'Liberation Serif', serif" fill="#000" stroke="#000" stroke-width="0.1">1</text>
<text x="442.80" y="270.00" font-size="6.0" text-anchor="middle" font-weight="bold" font-family="'Liberation Serif', serif" fill="#000" stroke="#000" stroke-width="0.25">10</text>
<text x="446.60" y="267.60" font-size="3.3" text-anchor="middle" font-weight="bold" font-family="'Liberation Serif', serif" fill="#000" stroke="#000" stroke-width="0.1">2</text>
<text x="477.40" y="270.00" font-size="6.0" text-anchor="middle" font-weight="bold" font-family="'Liberation Serif', serif" fill="#000" stroke="#000" stroke-width="0.25">10</text>
<text x="481.20" y="267.60" font-size="3.3" text-anchor="middle" font-weight="bold" font-family="'Liberation Serif', serif" fill="#000" stroke="#000" stroke-width="0.1">3</text>
<text x="511.70" y="270.00" font-size="6.0" text-anchor="middle" font-weight="bold" font-family="'Liberation Serif', serif" fill="#000" stroke="#000" stroke-width="0.25">10</text>
<text x="515.50" y="267.60" font-size="3.3" text-anchor="middle" font-weight="bold" font-family="'Liberation Serif', serif" fill="#000" stroke="#000" stroke-width="0.1">4</text>
<text x="391.90" y="176.00" font-size="7.15" text-anchor="middle" font-weight="bold" font-family="'Liberation Serif', serif" fill="#000" stroke="#000" stroke-width="0.05">CTRL</text>
<text x="418.50" y="176.00" font-size="7.15" text-anchor="middle" font-weight="bold" font-family="'Liberation Serif', serif" fill="#000" stroke="#000" stroke-width="0.05">HNE</text>
<text x="435.40" y="176.00" font-size="7.15" text-anchor="middle" font-weight="bold" font-family="'Liberation Serif', serif" fill="#000" stroke="#000" stroke-width="0.05">HZ</text>
<line x1="395.70" y1="178.50" x2="403.80" y2="197.60" stroke="#666" stroke-width="0.5"/>
<line x1="416.50" y1="178.00" x2="418.20" y2="220.00" stroke="#666" stroke-width="0.5"/>
<line x1="434.60" y1="178.00" x2="429.80" y2="202.50" stroke="#666" stroke-width="0.5"/>
<text x="0" y="0" font-size="7.6" text-anchor="middle" font-weight="normal" font-family="'Liberation Serif', serif" fill="#000" stroke="#000" stroke-width="0.05" transform="translate(366.20 221.00) rotate(-90)">EVENTS</text>
<text x="445.20" y="286.00" font-size="8.0" text-anchor="middle" font-weight="normal" font-family="'Liberation Serif', serif" fill="#000" stroke="#000" stroke-width="0.1">CD34</text>
</svg></body></html>
